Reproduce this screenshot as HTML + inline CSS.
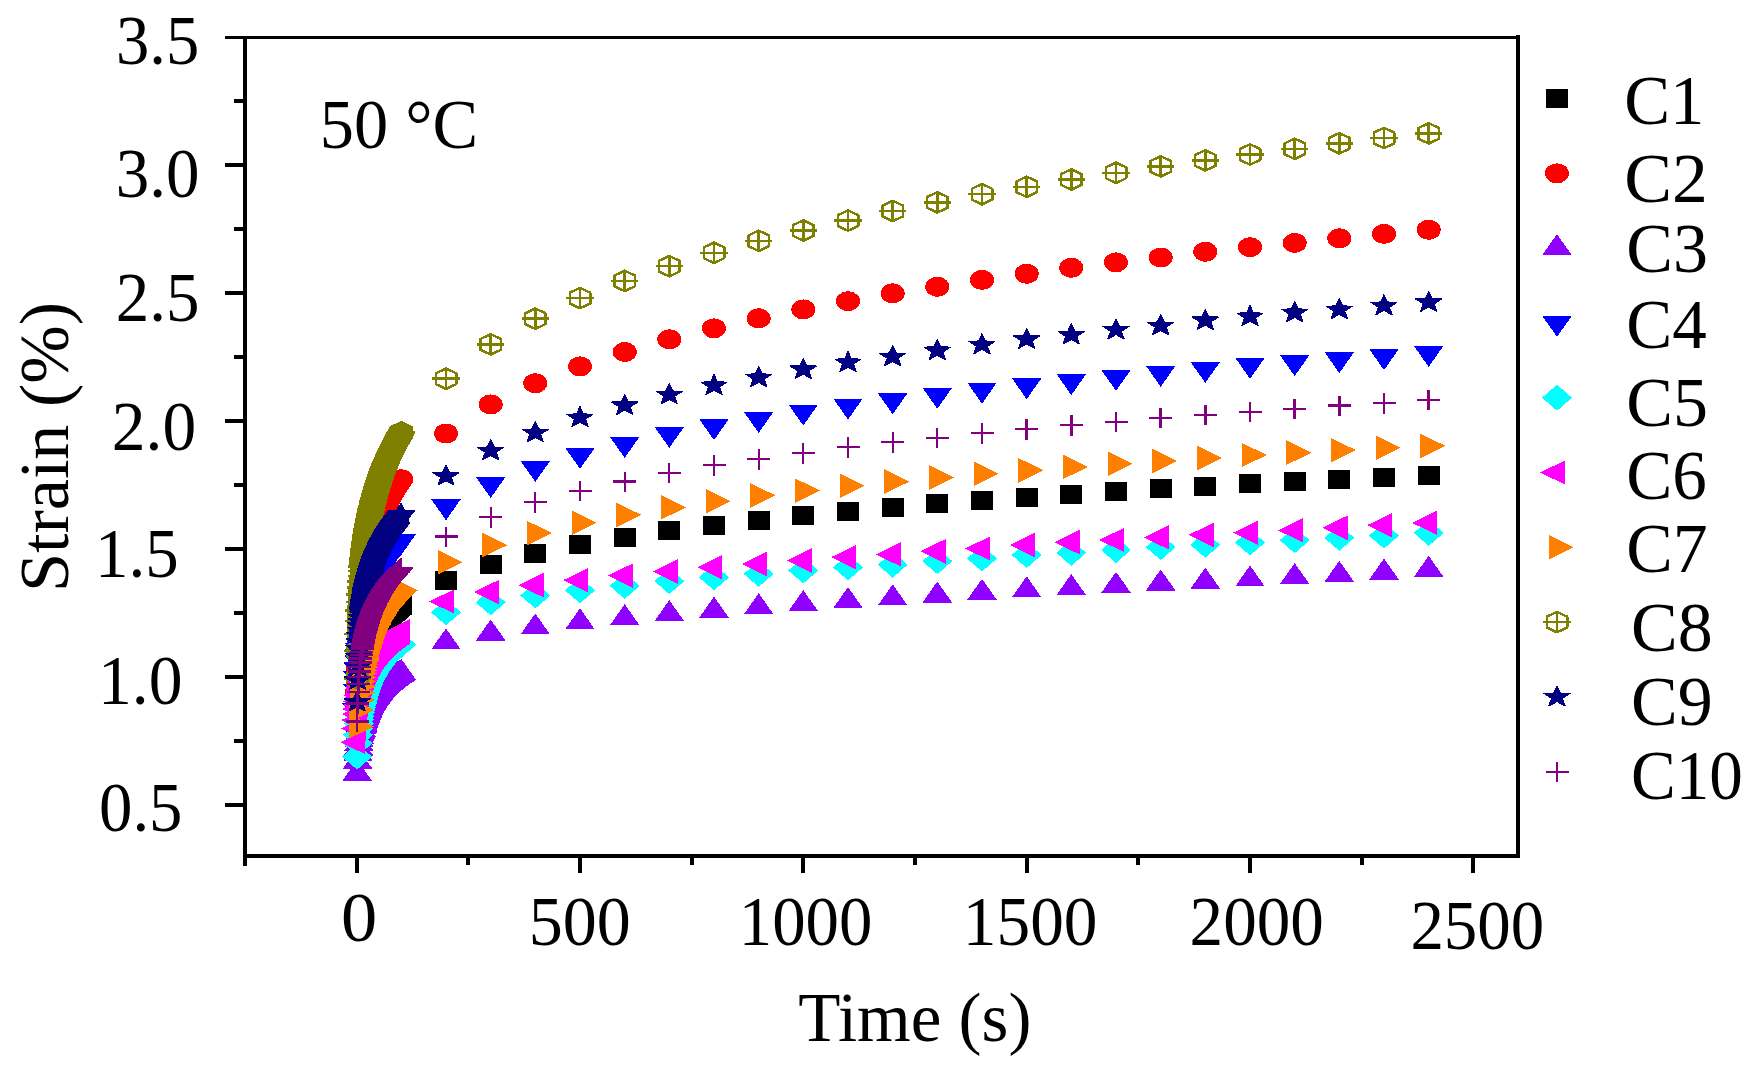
<!DOCTYPE html>
<html><head><meta charset="utf-8"><title>Creep strain at 50 °C</title>
<style>html,body{margin:0;padding:0;background:#fff}svg{display:block}</style></head>
<body>
<svg width="1750" height="1070" viewBox="0 0 1750 1070">
<rect width="1750" height="1070" fill="#fff"/>
<defs>
<rect id="m1" x="-11" y="-9.5" width="22" height="19"/>
<ellipse id="m2" rx="12" ry="10"/>
<polygon id="m3" points="0,-14 14.75,7 -14.75,7"/>
<polygon id="m4" points="0,14 14.75,-7 -14.75,-7"/>
<polygon id="m5" points="0,-13 15,0 0,13 -15,0"/>
<polygon id="m6" points="-16.7,0 8.3,-12.3 8.3,12.3"/>
<polygon id="m7" points="16.7,0 -8.3,-12.3 -8.3,12.3"/>
<g id="m8" fill="none" stroke="#808000" stroke-width="2.5" stroke-linejoin="round"><polygon points="0,-10.2 10.25,-5.4 10.25,5.4 0,10.2 -10.25,5.4 -10.25,-5.4"/><path d="M-13.6,0H13.6M0,-10.5V10.5"/></g>
<polygon id="m8f" points="0,-11.5 11.5,-5.75 11.5,5.75 0,11.5 -11.5,5.75 -11.5,-5.75"/>
<polygon id="m9" points="0.00,-11.00 3.36,-3.74 12.93,-3.40 5.43,1.43 7.99,8.90 0.00,4.62 -7.99,8.90 -5.43,1.43 -12.93,-3.40 -3.36,-3.74" stroke="#000080" stroke-width="1.2" stroke-linejoin="round"/>
<path id="m10" d="M-11.5,0H11.5M0,-10V10.5" fill="none" stroke="#800080" stroke-width="2.4"/>
</defs>
<clipPath id="pc"><rect x="245" y="37" width="1273" height="819"/></clipPath>
<g clip-path="url(#pc)" shape-rendering="crispEdges">
<g fill="#000000">
<use href="#m1" x="357.1" y="730.0"/><use href="#m1" x="357.6" y="714.8"/><use href="#m1" x="358.0" y="705.3"/><use href="#m1" x="358.5" y="698.4"/><use href="#m1" x="358.9" y="692.8"/><use href="#m1" x="359.3" y="688.2"/><use href="#m1" x="359.8" y="684.2"/><use href="#m1" x="360.2" y="680.7"/><use href="#m1" x="360.7" y="677.6"/><use href="#m1" x="361.1" y="674.8"/><use href="#m1" x="361.6" y="672.2"/><use href="#m1" x="362.0" y="669.8"/><use href="#m1" x="362.2" y="668.7"/><use href="#m1" x="362.5" y="667.6"/><use href="#m1" x="362.7" y="666.5"/><use href="#m1" x="362.9" y="665.5"/><use href="#m1" x="363.1" y="664.5"/><use href="#m1" x="363.4" y="663.6"/><use href="#m1" x="363.6" y="662.7"/><use href="#m1" x="363.8" y="661.8"/><use href="#m1" x="364.0" y="660.9"/><use href="#m1" x="364.3" y="660.0"/><use href="#m1" x="364.5" y="659.2"/><use href="#m1" x="364.7" y="658.4"/><use href="#m1" x="364.9" y="657.6"/><use href="#m1" x="365.2" y="656.9"/><use href="#m1" x="365.4" y="656.1"/><use href="#m1" x="365.6" y="655.4"/><use href="#m1" x="365.8" y="654.7"/><use href="#m1" x="366.0" y="653.9"/><use href="#m1" x="366.3" y="653.3"/><use href="#m1" x="366.5" y="652.6"/><use href="#m1" x="366.7" y="651.9"/><use href="#m1" x="366.9" y="651.3"/><use href="#m1" x="367.2" y="650.6"/><use href="#m1" x="367.4" y="650.0"/><use href="#m1" x="367.6" y="649.4"/><use href="#m1" x="367.8" y="648.8"/><use href="#m1" x="368.1" y="648.2"/><use href="#m1" x="368.3" y="647.6"/><use href="#m1" x="368.5" y="647.1"/><use href="#m1" x="368.7" y="646.5"/><use href="#m1" x="368.9" y="646.0"/><use href="#m1" x="369.2" y="645.4"/><use href="#m1" x="369.4" y="644.9"/><use href="#m1" x="369.6" y="644.4"/><use href="#m1" x="369.8" y="643.9"/><use href="#m1" x="370.1" y="643.3"/><use href="#m1" x="370.3" y="642.8"/><use href="#m1" x="370.5" y="642.4"/><use href="#m1" x="370.7" y="641.9"/><use href="#m1" x="371.0" y="641.4"/><use href="#m1" x="371.2" y="640.9"/><use href="#m1" x="371.4" y="640.4"/><use href="#m1" x="371.6" y="640.0"/><use href="#m1" x="371.9" y="639.5"/><use href="#m1" x="372.1" y="639.1"/><use href="#m1" x="372.3" y="638.6"/><use href="#m1" x="372.5" y="638.2"/><use href="#m1" x="372.7" y="637.8"/><use href="#m1" x="373.0" y="637.4"/><use href="#m1" x="373.2" y="636.9"/><use href="#m1" x="373.4" y="636.5"/><use href="#m1" x="373.6" y="636.1"/><use href="#m1" x="373.9" y="635.7"/><use href="#m1" x="374.1" y="635.3"/><use href="#m1" x="374.3" y="634.9"/><use href="#m1" x="374.5" y="634.5"/><use href="#m1" x="374.8" y="634.1"/><use href="#m1" x="375.0" y="633.7"/><use href="#m1" x="375.2" y="633.4"/><use href="#m1" x="375.4" y="633.0"/><use href="#m1" x="375.6" y="632.6"/><use href="#m1" x="375.9" y="632.2"/><use href="#m1" x="376.1" y="631.9"/><use href="#m1" x="376.3" y="631.5"/><use href="#m1" x="376.5" y="631.2"/><use href="#m1" x="376.8" y="630.8"/><use href="#m1" x="377.0" y="630.5"/><use href="#m1" x="377.2" y="630.1"/><use href="#m1" x="377.4" y="629.8"/><use href="#m1" x="377.7" y="629.4"/><use href="#m1" x="377.9" y="629.1"/><use href="#m1" x="378.1" y="628.8"/><use href="#m1" x="378.3" y="628.4"/><use href="#m1" x="378.6" y="628.1"/><use href="#m1" x="378.8" y="627.8"/><use href="#m1" x="379.0" y="627.5"/><use href="#m1" x="379.2" y="627.1"/><use href="#m1" x="379.4" y="626.8"/><use href="#m1" x="379.7" y="626.5"/><use href="#m1" x="379.9" y="626.2"/><use href="#m1" x="380.1" y="625.9"/><use href="#m1" x="380.3" y="625.6"/><use href="#m1" x="380.6" y="625.3"/><use href="#m1" x="380.8" y="625.0"/><use href="#m1" x="381.0" y="624.7"/><use href="#m1" x="381.2" y="624.4"/><use href="#m1" x="381.5" y="624.1"/><use href="#m1" x="381.7" y="623.8"/><use href="#m1" x="381.9" y="623.5"/><use href="#m1" x="382.1" y="623.2"/><use href="#m1" x="382.4" y="623.0"/><use href="#m1" x="382.6" y="622.7"/><use href="#m1" x="382.8" y="622.4"/><use href="#m1" x="383.0" y="622.1"/><use href="#m1" x="383.2" y="621.9"/><use href="#m1" x="383.5" y="621.6"/><use href="#m1" x="383.7" y="621.3"/><use href="#m1" x="383.9" y="621.0"/><use href="#m1" x="384.1" y="620.8"/><use href="#m1" x="384.4" y="620.5"/><use href="#m1" x="384.6" y="620.3"/><use href="#m1" x="384.8" y="620.0"/><use href="#m1" x="385.0" y="619.7"/><use href="#m1" x="385.3" y="619.5"/><use href="#m1" x="385.5" y="619.2"/><use href="#m1" x="385.7" y="619.0"/><use href="#m1" x="385.9" y="618.7"/><use href="#m1" x="386.1" y="618.5"/><use href="#m1" x="386.4" y="618.2"/><use href="#m1" x="386.6" y="618.0"/><use href="#m1" x="386.8" y="617.7"/><use href="#m1" x="387.0" y="617.5"/><use href="#m1" x="387.3" y="617.2"/><use href="#m1" x="387.5" y="617.0"/><use href="#m1" x="387.7" y="616.8"/><use href="#m1" x="387.9" y="616.5"/><use href="#m1" x="388.2" y="616.3"/><use href="#m1" x="388.4" y="616.1"/><use href="#m1" x="388.6" y="615.8"/><use href="#m1" x="388.8" y="615.6"/><use href="#m1" x="389.0" y="615.4"/><use href="#m1" x="389.3" y="615.1"/><use href="#m1" x="389.5" y="614.9"/><use href="#m1" x="389.7" y="614.7"/><use href="#m1" x="389.9" y="614.5"/><use href="#m1" x="390.2" y="614.2"/><use href="#m1" x="390.4" y="614.0"/><use href="#m1" x="390.6" y="613.8"/><use href="#m1" x="390.8" y="613.6"/><use href="#m1" x="391.1" y="613.4"/><use href="#m1" x="391.3" y="613.1"/><use href="#m1" x="391.5" y="612.9"/><use href="#m1" x="391.7" y="612.7"/><use href="#m1" x="392.0" y="612.5"/><use href="#m1" x="392.2" y="612.3"/><use href="#m1" x="392.4" y="612.1"/><use href="#m1" x="392.6" y="611.9"/><use href="#m1" x="392.8" y="611.7"/><use href="#m1" x="393.1" y="611.5"/><use href="#m1" x="393.3" y="611.2"/><use href="#m1" x="393.5" y="611.0"/><use href="#m1" x="393.7" y="610.8"/><use href="#m1" x="394.0" y="610.6"/><use href="#m1" x="394.2" y="610.4"/><use href="#m1" x="394.4" y="610.2"/><use href="#m1" x="394.6" y="610.0"/><use href="#m1" x="394.9" y="609.8"/><use href="#m1" x="395.1" y="609.6"/><use href="#m1" x="395.3" y="609.4"/><use href="#m1" x="395.5" y="609.2"/><use href="#m1" x="395.8" y="609.1"/><use href="#m1" x="396.0" y="608.9"/><use href="#m1" x="396.2" y="608.7"/><use href="#m1" x="396.4" y="608.5"/><use href="#m1" x="396.6" y="608.3"/><use href="#m1" x="396.9" y="608.1"/><use href="#m1" x="397.1" y="607.9"/><use href="#m1" x="397.3" y="607.7"/><use href="#m1" x="397.5" y="607.5"/><use href="#m1" x="397.8" y="607.4"/><use href="#m1" x="398.0" y="607.2"/><use href="#m1" x="398.2" y="607.0"/><use href="#m1" x="398.4" y="606.8"/><use href="#m1" x="398.7" y="606.6"/><use href="#m1" x="398.9" y="606.4"/><use href="#m1" x="399.1" y="606.3"/><use href="#m1" x="399.3" y="606.1"/><use href="#m1" x="399.5" y="605.9"/><use href="#m1" x="399.8" y="605.7"/><use href="#m1" x="400.0" y="605.5"/><use href="#m1" x="400.2" y="605.4"/><use href="#m1" x="400.4" y="605.2"/><use href="#m1" x="400.7" y="605.0"/><use href="#m1" x="400.9" y="604.8"/><use href="#m1" x="401.1" y="604.7"/><use href="#m1" x="401.3" y="604.5"/><use href="#m1" x="446.0" y="580.4"/><use href="#m1" x="490.7" y="564.9"/><use href="#m1" x="535.3" y="553.3"/><use href="#m1" x="580.0" y="544.1"/><use href="#m1" x="624.7" y="537.2"/><use href="#m1" x="669.3" y="530.7"/><use href="#m1" x="714.0" y="525.2"/><use href="#m1" x="758.7" y="520.1"/><use href="#m1" x="803.3" y="515.3"/><use href="#m1" x="848.0" y="511.1"/><use href="#m1" x="892.7" y="507.4"/><use href="#m1" x="937.3" y="503.9"/><use href="#m1" x="982.0" y="500.5"/><use href="#m1" x="1026.7" y="497.2"/><use href="#m1" x="1071.3" y="494.2"/><use href="#m1" x="1116.0" y="491.4"/><use href="#m1" x="1160.7" y="488.9"/><use href="#m1" x="1205.3" y="486.4"/><use href="#m1" x="1250.0" y="483.9"/><use href="#m1" x="1294.7" y="481.3"/><use href="#m1" x="1339.3" y="479.3"/><use href="#m1" x="1384.0" y="477.5"/><use href="#m1" x="1428.7" y="475.4"/>
</g>
<g fill="#ff0000">
<use href="#m2" x="357.1" y="692.0"/><use href="#m2" x="357.6" y="667.9"/><use href="#m2" x="358.0" y="652.7"/><use href="#m2" x="358.5" y="641.4"/><use href="#m2" x="358.9" y="632.4"/><use href="#m2" x="359.3" y="624.7"/><use href="#m2" x="359.8" y="618.1"/><use href="#m2" x="360.2" y="612.3"/><use href="#m2" x="360.7" y="607.1"/><use href="#m2" x="361.1" y="602.3"/><use href="#m2" x="361.6" y="597.9"/><use href="#m2" x="362.0" y="593.9"/><use href="#m2" x="362.2" y="592.0"/><use href="#m2" x="362.5" y="590.2"/><use href="#m2" x="362.7" y="588.4"/><use href="#m2" x="362.9" y="586.7"/><use href="#m2" x="363.1" y="585.0"/><use href="#m2" x="363.4" y="583.4"/><use href="#m2" x="363.6" y="581.8"/><use href="#m2" x="363.8" y="580.2"/><use href="#m2" x="364.0" y="578.7"/><use href="#m2" x="364.3" y="577.3"/><use href="#m2" x="364.5" y="575.9"/><use href="#m2" x="364.7" y="574.5"/><use href="#m2" x="364.9" y="573.1"/><use href="#m2" x="365.2" y="571.8"/><use href="#m2" x="365.4" y="570.5"/><use href="#m2" x="365.6" y="569.3"/><use href="#m2" x="365.8" y="568.0"/><use href="#m2" x="366.0" y="566.8"/><use href="#m2" x="366.3" y="565.6"/><use href="#m2" x="366.5" y="564.5"/><use href="#m2" x="366.7" y="563.3"/><use href="#m2" x="366.9" y="562.2"/><use href="#m2" x="367.2" y="561.1"/><use href="#m2" x="367.4" y="560.0"/><use href="#m2" x="367.6" y="559.0"/><use href="#m2" x="367.8" y="557.9"/><use href="#m2" x="368.1" y="556.9"/><use href="#m2" x="368.3" y="555.9"/><use href="#m2" x="368.5" y="554.9"/><use href="#m2" x="368.7" y="553.9"/><use href="#m2" x="368.9" y="553.0"/><use href="#m2" x="369.2" y="552.0"/><use href="#m2" x="369.4" y="551.1"/><use href="#m2" x="369.6" y="550.2"/><use href="#m2" x="369.8" y="549.3"/><use href="#m2" x="370.1" y="548.4"/><use href="#m2" x="370.3" y="547.5"/><use href="#m2" x="370.5" y="546.7"/><use href="#m2" x="370.7" y="545.8"/><use href="#m2" x="371.0" y="545.0"/><use href="#m2" x="371.2" y="544.2"/><use href="#m2" x="371.4" y="543.3"/><use href="#m2" x="371.6" y="542.5"/><use href="#m2" x="371.9" y="541.7"/><use href="#m2" x="372.1" y="541.0"/><use href="#m2" x="372.3" y="540.2"/><use href="#m2" x="372.5" y="539.4"/><use href="#m2" x="372.7" y="538.7"/><use href="#m2" x="373.0" y="537.9"/><use href="#m2" x="373.2" y="537.2"/><use href="#m2" x="373.4" y="536.4"/><use href="#m2" x="373.6" y="535.7"/><use href="#m2" x="373.9" y="535.0"/><use href="#m2" x="374.1" y="534.3"/><use href="#m2" x="374.3" y="533.6"/><use href="#m2" x="374.5" y="532.9"/><use href="#m2" x="374.8" y="532.2"/><use href="#m2" x="375.0" y="531.5"/><use href="#m2" x="375.2" y="530.9"/><use href="#m2" x="375.4" y="530.2"/><use href="#m2" x="375.6" y="529.6"/><use href="#m2" x="375.9" y="528.9"/><use href="#m2" x="376.1" y="528.3"/><use href="#m2" x="376.3" y="527.6"/><use href="#m2" x="376.5" y="527.0"/><use href="#m2" x="376.8" y="526.4"/><use href="#m2" x="377.0" y="525.8"/><use href="#m2" x="377.2" y="525.1"/><use href="#m2" x="377.4" y="524.5"/><use href="#m2" x="377.7" y="523.9"/><use href="#m2" x="377.9" y="523.3"/><use href="#m2" x="378.1" y="522.7"/><use href="#m2" x="378.3" y="522.2"/><use href="#m2" x="378.6" y="521.6"/><use href="#m2" x="378.8" y="521.0"/><use href="#m2" x="379.0" y="520.4"/><use href="#m2" x="379.2" y="519.9"/><use href="#m2" x="379.4" y="519.3"/><use href="#m2" x="379.7" y="518.8"/><use href="#m2" x="379.9" y="518.2"/><use href="#m2" x="380.1" y="517.7"/><use href="#m2" x="380.3" y="517.1"/><use href="#m2" x="380.6" y="516.6"/><use href="#m2" x="380.8" y="516.1"/><use href="#m2" x="381.0" y="515.5"/><use href="#m2" x="381.2" y="515.0"/><use href="#m2" x="381.5" y="514.5"/><use href="#m2" x="381.7" y="514.0"/><use href="#m2" x="381.9" y="513.5"/><use href="#m2" x="382.1" y="512.9"/><use href="#m2" x="382.4" y="512.4"/><use href="#m2" x="382.6" y="511.9"/><use href="#m2" x="382.8" y="511.4"/><use href="#m2" x="383.0" y="510.9"/><use href="#m2" x="383.2" y="510.5"/><use href="#m2" x="383.5" y="510.0"/><use href="#m2" x="383.7" y="509.5"/><use href="#m2" x="383.9" y="509.0"/><use href="#m2" x="384.1" y="508.5"/><use href="#m2" x="384.4" y="508.1"/><use href="#m2" x="384.6" y="507.6"/><use href="#m2" x="384.8" y="507.1"/><use href="#m2" x="385.0" y="506.7"/><use href="#m2" x="385.3" y="506.2"/><use href="#m2" x="385.5" y="505.7"/><use href="#m2" x="385.7" y="505.3"/><use href="#m2" x="385.9" y="504.8"/><use href="#m2" x="386.1" y="504.4"/><use href="#m2" x="386.4" y="503.9"/><use href="#m2" x="386.6" y="503.5"/><use href="#m2" x="386.8" y="503.1"/><use href="#m2" x="387.0" y="502.6"/><use href="#m2" x="387.3" y="502.2"/><use href="#m2" x="387.5" y="501.8"/><use href="#m2" x="387.7" y="501.3"/><use href="#m2" x="387.9" y="500.9"/><use href="#m2" x="388.2" y="500.5"/><use href="#m2" x="388.4" y="500.1"/><use href="#m2" x="388.6" y="499.7"/><use href="#m2" x="388.8" y="499.2"/><use href="#m2" x="389.0" y="498.8"/><use href="#m2" x="389.3" y="498.4"/><use href="#m2" x="389.5" y="498.0"/><use href="#m2" x="389.7" y="497.6"/><use href="#m2" x="389.9" y="497.2"/><use href="#m2" x="390.2" y="496.8"/><use href="#m2" x="390.4" y="496.4"/><use href="#m2" x="390.6" y="496.0"/><use href="#m2" x="390.8" y="495.6"/><use href="#m2" x="391.1" y="495.2"/><use href="#m2" x="391.3" y="494.8"/><use href="#m2" x="391.5" y="494.4"/><use href="#m2" x="391.7" y="494.1"/><use href="#m2" x="392.0" y="493.7"/><use href="#m2" x="392.2" y="493.3"/><use href="#m2" x="392.4" y="492.9"/><use href="#m2" x="392.6" y="492.5"/><use href="#m2" x="392.8" y="492.2"/><use href="#m2" x="393.1" y="491.8"/><use href="#m2" x="393.3" y="491.4"/><use href="#m2" x="393.5" y="491.0"/><use href="#m2" x="393.7" y="490.7"/><use href="#m2" x="394.0" y="490.3"/><use href="#m2" x="394.2" y="489.9"/><use href="#m2" x="394.4" y="489.6"/><use href="#m2" x="394.6" y="489.2"/><use href="#m2" x="394.9" y="488.9"/><use href="#m2" x="395.1" y="488.5"/><use href="#m2" x="395.3" y="488.2"/><use href="#m2" x="395.5" y="487.8"/><use href="#m2" x="395.8" y="487.5"/><use href="#m2" x="396.0" y="487.1"/><use href="#m2" x="396.2" y="486.8"/><use href="#m2" x="396.4" y="486.4"/><use href="#m2" x="396.6" y="486.1"/><use href="#m2" x="396.9" y="485.7"/><use href="#m2" x="397.1" y="485.4"/><use href="#m2" x="397.3" y="485.0"/><use href="#m2" x="397.5" y="484.7"/><use href="#m2" x="397.8" y="484.4"/><use href="#m2" x="398.0" y="484.0"/><use href="#m2" x="398.2" y="483.7"/><use href="#m2" x="398.4" y="483.4"/><use href="#m2" x="398.7" y="483.0"/><use href="#m2" x="398.9" y="482.7"/><use href="#m2" x="399.1" y="482.4"/><use href="#m2" x="399.3" y="482.1"/><use href="#m2" x="399.5" y="481.7"/><use href="#m2" x="399.8" y="481.4"/><use href="#m2" x="400.0" y="481.1"/><use href="#m2" x="400.2" y="480.8"/><use href="#m2" x="400.4" y="480.5"/><use href="#m2" x="400.7" y="480.1"/><use href="#m2" x="400.9" y="479.8"/><use href="#m2" x="401.1" y="479.5"/><use href="#m2" x="401.3" y="479.2"/><use href="#m2" x="446.0" y="433.5"/><use href="#m2" x="490.7" y="404.4"/><use href="#m2" x="535.3" y="383.2"/><use href="#m2" x="580.0" y="366.4"/><use href="#m2" x="624.7" y="352.0"/><use href="#m2" x="669.3" y="339.3"/><use href="#m2" x="714.0" y="328.3"/><use href="#m2" x="758.7" y="318.3"/><use href="#m2" x="803.3" y="309.4"/><use href="#m2" x="848.0" y="301.2"/><use href="#m2" x="892.7" y="293.3"/><use href="#m2" x="937.3" y="286.8"/><use href="#m2" x="982.0" y="279.9"/><use href="#m2" x="1026.7" y="273.8"/><use href="#m2" x="1071.3" y="267.8"/><use href="#m2" x="1116.0" y="262.3"/><use href="#m2" x="1160.7" y="257.5"/><use href="#m2" x="1205.3" y="251.8"/><use href="#m2" x="1250.0" y="247.2"/><use href="#m2" x="1294.7" y="242.9"/><use href="#m2" x="1339.3" y="238.3"/><use href="#m2" x="1384.0" y="233.9"/><use href="#m2" x="1428.7" y="229.8"/>
</g>
<g fill="#9000ff">
<use href="#m3" x="357.1" y="773.8"/><use href="#m3" x="357.6" y="761.6"/><use href="#m3" x="358.0" y="754.0"/><use href="#m3" x="358.5" y="748.5"/><use href="#m3" x="358.9" y="744.0"/><use href="#m3" x="359.3" y="740.3"/><use href="#m3" x="359.8" y="737.1"/><use href="#m3" x="360.2" y="734.3"/><use href="#m3" x="360.7" y="731.8"/><use href="#m3" x="361.1" y="729.5"/><use href="#m3" x="361.6" y="727.4"/><use href="#m3" x="362.0" y="725.5"/><use href="#m3" x="362.2" y="724.6"/><use href="#m3" x="362.5" y="723.7"/><use href="#m3" x="362.7" y="722.9"/><use href="#m3" x="362.9" y="722.1"/><use href="#m3" x="363.1" y="721.3"/><use href="#m3" x="363.4" y="720.5"/><use href="#m3" x="363.6" y="719.8"/><use href="#m3" x="363.8" y="719.1"/><use href="#m3" x="364.0" y="718.4"/><use href="#m3" x="364.3" y="717.7"/><use href="#m3" x="364.5" y="717.0"/><use href="#m3" x="364.7" y="716.4"/><use href="#m3" x="364.9" y="715.7"/><use href="#m3" x="365.2" y="715.1"/><use href="#m3" x="365.4" y="714.5"/><use href="#m3" x="365.6" y="713.9"/><use href="#m3" x="365.8" y="713.3"/><use href="#m3" x="366.0" y="712.8"/><use href="#m3" x="366.3" y="712.2"/><use href="#m3" x="366.5" y="711.7"/><use href="#m3" x="366.7" y="711.1"/><use href="#m3" x="366.9" y="710.6"/><use href="#m3" x="367.2" y="710.1"/><use href="#m3" x="367.4" y="709.6"/><use href="#m3" x="367.6" y="709.1"/><use href="#m3" x="367.8" y="708.6"/><use href="#m3" x="368.1" y="708.2"/><use href="#m3" x="368.3" y="707.7"/><use href="#m3" x="368.5" y="707.2"/><use href="#m3" x="368.7" y="706.8"/><use href="#m3" x="368.9" y="706.3"/><use href="#m3" x="369.2" y="705.9"/><use href="#m3" x="369.4" y="705.5"/><use href="#m3" x="369.6" y="705.1"/><use href="#m3" x="369.8" y="704.6"/><use href="#m3" x="370.1" y="704.2"/><use href="#m3" x="370.3" y="703.8"/><use href="#m3" x="370.5" y="703.4"/><use href="#m3" x="370.7" y="703.0"/><use href="#m3" x="371.0" y="702.7"/><use href="#m3" x="371.2" y="702.3"/><use href="#m3" x="371.4" y="701.9"/><use href="#m3" x="371.6" y="701.5"/><use href="#m3" x="371.9" y="701.2"/><use href="#m3" x="372.1" y="700.8"/><use href="#m3" x="372.3" y="700.4"/><use href="#m3" x="372.5" y="700.1"/><use href="#m3" x="372.7" y="699.7"/><use href="#m3" x="373.0" y="699.4"/><use href="#m3" x="373.2" y="699.1"/><use href="#m3" x="373.4" y="698.7"/><use href="#m3" x="373.6" y="698.4"/><use href="#m3" x="373.9" y="698.1"/><use href="#m3" x="374.1" y="697.7"/><use href="#m3" x="374.3" y="697.4"/><use href="#m3" x="374.5" y="697.1"/><use href="#m3" x="374.8" y="696.8"/><use href="#m3" x="375.0" y="696.5"/><use href="#m3" x="375.2" y="696.2"/><use href="#m3" x="375.4" y="695.9"/><use href="#m3" x="375.6" y="695.6"/><use href="#m3" x="375.9" y="695.3"/><use href="#m3" x="376.1" y="695.0"/><use href="#m3" x="376.3" y="694.7"/><use href="#m3" x="376.5" y="694.4"/><use href="#m3" x="376.8" y="694.1"/><use href="#m3" x="377.0" y="693.8"/><use href="#m3" x="377.2" y="693.6"/><use href="#m3" x="377.4" y="693.3"/><use href="#m3" x="377.7" y="693.0"/><use href="#m3" x="377.9" y="692.7"/><use href="#m3" x="378.1" y="692.5"/><use href="#m3" x="378.3" y="692.2"/><use href="#m3" x="378.6" y="692.0"/><use href="#m3" x="378.8" y="691.7"/><use href="#m3" x="379.0" y="691.4"/><use href="#m3" x="379.2" y="691.2"/><use href="#m3" x="379.4" y="690.9"/><use href="#m3" x="379.7" y="690.7"/><use href="#m3" x="379.9" y="690.4"/><use href="#m3" x="380.1" y="690.2"/><use href="#m3" x="380.3" y="689.9"/><use href="#m3" x="380.6" y="689.7"/><use href="#m3" x="380.8" y="689.4"/><use href="#m3" x="381.0" y="689.2"/><use href="#m3" x="381.2" y="689.0"/><use href="#m3" x="381.5" y="688.7"/><use href="#m3" x="381.7" y="688.5"/><use href="#m3" x="381.9" y="688.3"/><use href="#m3" x="382.1" y="688.0"/><use href="#m3" x="382.4" y="687.8"/><use href="#m3" x="382.6" y="687.6"/><use href="#m3" x="382.8" y="687.4"/><use href="#m3" x="383.0" y="687.1"/><use href="#m3" x="383.2" y="686.9"/><use href="#m3" x="383.5" y="686.7"/><use href="#m3" x="383.7" y="686.5"/><use href="#m3" x="383.9" y="686.3"/><use href="#m3" x="384.1" y="686.0"/><use href="#m3" x="384.4" y="685.8"/><use href="#m3" x="384.6" y="685.6"/><use href="#m3" x="384.8" y="685.4"/><use href="#m3" x="385.0" y="685.2"/><use href="#m3" x="385.3" y="685.0"/><use href="#m3" x="385.5" y="684.8"/><use href="#m3" x="385.7" y="684.6"/><use href="#m3" x="385.9" y="684.4"/><use href="#m3" x="386.1" y="684.2"/><use href="#m3" x="386.4" y="684.0"/><use href="#m3" x="386.6" y="683.8"/><use href="#m3" x="386.8" y="683.6"/><use href="#m3" x="387.0" y="683.4"/><use href="#m3" x="387.3" y="683.2"/><use href="#m3" x="387.5" y="683.0"/><use href="#m3" x="387.7" y="682.8"/><use href="#m3" x="387.9" y="682.6"/><use href="#m3" x="388.2" y="682.4"/><use href="#m3" x="388.4" y="682.2"/><use href="#m3" x="388.6" y="682.0"/><use href="#m3" x="388.8" y="681.9"/><use href="#m3" x="389.0" y="681.7"/><use href="#m3" x="389.3" y="681.5"/><use href="#m3" x="389.5" y="681.3"/><use href="#m3" x="389.7" y="681.1"/><use href="#m3" x="389.9" y="680.9"/><use href="#m3" x="390.2" y="680.8"/><use href="#m3" x="390.4" y="680.6"/><use href="#m3" x="390.6" y="680.4"/><use href="#m3" x="390.8" y="680.2"/><use href="#m3" x="391.1" y="680.0"/><use href="#m3" x="391.3" y="679.9"/><use href="#m3" x="391.5" y="679.7"/><use href="#m3" x="391.7" y="679.5"/><use href="#m3" x="392.0" y="679.4"/><use href="#m3" x="392.2" y="679.2"/><use href="#m3" x="392.4" y="679.0"/><use href="#m3" x="392.6" y="678.8"/><use href="#m3" x="392.8" y="678.7"/><use href="#m3" x="393.1" y="678.5"/><use href="#m3" x="393.3" y="678.3"/><use href="#m3" x="393.5" y="678.2"/><use href="#m3" x="393.7" y="678.0"/><use href="#m3" x="394.0" y="677.9"/><use href="#m3" x="394.2" y="677.7"/><use href="#m3" x="394.4" y="677.5"/><use href="#m3" x="394.6" y="677.4"/><use href="#m3" x="394.9" y="677.2"/><use href="#m3" x="395.1" y="677.0"/><use href="#m3" x="395.3" y="676.9"/><use href="#m3" x="395.5" y="676.7"/><use href="#m3" x="395.8" y="676.6"/><use href="#m3" x="396.0" y="676.4"/><use href="#m3" x="396.2" y="676.3"/><use href="#m3" x="396.4" y="676.1"/><use href="#m3" x="396.6" y="676.0"/><use href="#m3" x="396.9" y="675.8"/><use href="#m3" x="397.1" y="675.7"/><use href="#m3" x="397.3" y="675.5"/><use href="#m3" x="397.5" y="675.4"/><use href="#m3" x="397.8" y="675.2"/><use href="#m3" x="398.0" y="675.1"/><use href="#m3" x="398.2" y="674.9"/><use href="#m3" x="398.4" y="674.8"/><use href="#m3" x="398.7" y="674.6"/><use href="#m3" x="398.9" y="674.5"/><use href="#m3" x="399.1" y="674.3"/><use href="#m3" x="399.3" y="674.2"/><use href="#m3" x="399.5" y="674.0"/><use href="#m3" x="399.8" y="673.9"/><use href="#m3" x="400.0" y="673.7"/><use href="#m3" x="400.2" y="673.6"/><use href="#m3" x="400.4" y="673.5"/><use href="#m3" x="400.7" y="673.3"/><use href="#m3" x="400.9" y="673.2"/><use href="#m3" x="401.1" y="673.0"/><use href="#m3" x="401.3" y="672.9"/><use href="#m3" x="446.0" y="642.4"/><use href="#m3" x="490.7" y="633.5"/><use href="#m3" x="535.3" y="627.4"/><use href="#m3" x="580.0" y="622.3"/><use href="#m3" x="624.7" y="618.2"/><use href="#m3" x="669.3" y="614.1"/><use href="#m3" x="714.0" y="610.6"/><use href="#m3" x="758.7" y="607.2"/><use href="#m3" x="803.3" y="604.1"/><use href="#m3" x="848.0" y="601.0"/><use href="#m3" x="892.7" y="598.3"/><use href="#m3" x="937.3" y="595.5"/><use href="#m3" x="982.0" y="592.8"/><use href="#m3" x="1026.7" y="590.3"/><use href="#m3" x="1071.3" y="588.1"/><use href="#m3" x="1116.0" y="585.8"/><use href="#m3" x="1160.7" y="583.5"/><use href="#m3" x="1205.3" y="581.6"/><use href="#m3" x="1250.0" y="579.4"/><use href="#m3" x="1294.7" y="577.1"/><use href="#m3" x="1339.3" y="574.8"/><use href="#m3" x="1384.0" y="572.5"/><use href="#m3" x="1428.7" y="569.8"/>
</g>
<g fill="#0000ff">
<use href="#m4" x="357.1" y="710.4"/><use href="#m4" x="357.6" y="690.6"/><use href="#m4" x="358.0" y="678.2"/><use href="#m4" x="358.5" y="669.1"/><use href="#m4" x="358.9" y="661.7"/><use href="#m4" x="359.3" y="655.6"/><use href="#m4" x="359.8" y="650.3"/><use href="#m4" x="360.2" y="645.6"/><use href="#m4" x="360.7" y="641.4"/><use href="#m4" x="361.1" y="637.6"/><use href="#m4" x="361.6" y="634.1"/><use href="#m4" x="362.0" y="630.9"/><use href="#m4" x="362.2" y="629.4"/><use href="#m4" x="362.5" y="627.9"/><use href="#m4" x="362.7" y="626.5"/><use href="#m4" x="362.9" y="625.1"/><use href="#m4" x="363.1" y="623.8"/><use href="#m4" x="363.4" y="622.5"/><use href="#m4" x="363.6" y="621.3"/><use href="#m4" x="363.8" y="620.1"/><use href="#m4" x="364.0" y="618.9"/><use href="#m4" x="364.3" y="617.7"/><use href="#m4" x="364.5" y="616.6"/><use href="#m4" x="364.7" y="615.5"/><use href="#m4" x="364.9" y="614.4"/><use href="#m4" x="365.2" y="613.4"/><use href="#m4" x="365.4" y="612.4"/><use href="#m4" x="365.6" y="611.4"/><use href="#m4" x="365.8" y="610.4"/><use href="#m4" x="366.0" y="609.4"/><use href="#m4" x="366.3" y="608.5"/><use href="#m4" x="366.5" y="607.6"/><use href="#m4" x="366.7" y="606.7"/><use href="#m4" x="366.9" y="605.8"/><use href="#m4" x="367.2" y="604.9"/><use href="#m4" x="367.4" y="604.1"/><use href="#m4" x="367.6" y="603.2"/><use href="#m4" x="367.8" y="602.4"/><use href="#m4" x="368.1" y="601.6"/><use href="#m4" x="368.3" y="600.8"/><use href="#m4" x="368.5" y="600.0"/><use href="#m4" x="368.7" y="599.3"/><use href="#m4" x="368.9" y="598.5"/><use href="#m4" x="369.2" y="597.8"/><use href="#m4" x="369.4" y="597.0"/><use href="#m4" x="369.6" y="596.3"/><use href="#m4" x="369.8" y="595.6"/><use href="#m4" x="370.1" y="594.9"/><use href="#m4" x="370.3" y="594.2"/><use href="#m4" x="370.5" y="593.6"/><use href="#m4" x="370.7" y="592.9"/><use href="#m4" x="371.0" y="592.2"/><use href="#m4" x="371.2" y="591.6"/><use href="#m4" x="371.4" y="590.9"/><use href="#m4" x="371.6" y="590.3"/><use href="#m4" x="371.9" y="589.7"/><use href="#m4" x="372.1" y="589.1"/><use href="#m4" x="372.3" y="588.5"/><use href="#m4" x="372.5" y="587.9"/><use href="#m4" x="372.7" y="587.3"/><use href="#m4" x="373.0" y="586.7"/><use href="#m4" x="373.2" y="586.1"/><use href="#m4" x="373.4" y="585.5"/><use href="#m4" x="373.6" y="585.0"/><use href="#m4" x="373.9" y="584.4"/><use href="#m4" x="374.1" y="583.8"/><use href="#m4" x="374.3" y="583.3"/><use href="#m4" x="374.5" y="582.8"/><use href="#m4" x="374.8" y="582.2"/><use href="#m4" x="375.0" y="581.7"/><use href="#m4" x="375.2" y="581.2"/><use href="#m4" x="375.4" y="580.6"/><use href="#m4" x="375.6" y="580.1"/><use href="#m4" x="375.9" y="579.6"/><use href="#m4" x="376.1" y="579.1"/><use href="#m4" x="376.3" y="578.6"/><use href="#m4" x="376.5" y="578.1"/><use href="#m4" x="376.8" y="577.6"/><use href="#m4" x="377.0" y="577.2"/><use href="#m4" x="377.2" y="576.7"/><use href="#m4" x="377.4" y="576.2"/><use href="#m4" x="377.7" y="575.7"/><use href="#m4" x="377.9" y="575.3"/><use href="#m4" x="378.1" y="574.8"/><use href="#m4" x="378.3" y="574.4"/><use href="#m4" x="378.6" y="573.9"/><use href="#m4" x="378.8" y="573.5"/><use href="#m4" x="379.0" y="573.0"/><use href="#m4" x="379.2" y="572.6"/><use href="#m4" x="379.4" y="572.1"/><use href="#m4" x="379.7" y="571.7"/><use href="#m4" x="379.9" y="571.3"/><use href="#m4" x="380.1" y="570.8"/><use href="#m4" x="380.3" y="570.4"/><use href="#m4" x="380.6" y="570.0"/><use href="#m4" x="380.8" y="569.6"/><use href="#m4" x="381.0" y="569.2"/><use href="#m4" x="381.2" y="568.8"/><use href="#m4" x="381.5" y="568.4"/><use href="#m4" x="381.7" y="568.0"/><use href="#m4" x="381.9" y="567.6"/><use href="#m4" x="382.1" y="567.2"/><use href="#m4" x="382.4" y="566.8"/><use href="#m4" x="382.6" y="566.4"/><use href="#m4" x="382.8" y="566.0"/><use href="#m4" x="383.0" y="565.6"/><use href="#m4" x="383.2" y="565.2"/><use href="#m4" x="383.5" y="564.9"/><use href="#m4" x="383.7" y="564.5"/><use href="#m4" x="383.9" y="564.1"/><use href="#m4" x="384.1" y="563.7"/><use href="#m4" x="384.4" y="563.4"/><use href="#m4" x="384.6" y="563.0"/><use href="#m4" x="384.8" y="562.6"/><use href="#m4" x="385.0" y="562.3"/><use href="#m4" x="385.3" y="561.9"/><use href="#m4" x="385.5" y="561.6"/><use href="#m4" x="385.7" y="561.2"/><use href="#m4" x="385.9" y="560.9"/><use href="#m4" x="386.1" y="560.5"/><use href="#m4" x="386.4" y="560.2"/><use href="#m4" x="386.6" y="559.8"/><use href="#m4" x="386.8" y="559.5"/><use href="#m4" x="387.0" y="559.1"/><use href="#m4" x="387.3" y="558.8"/><use href="#m4" x="387.5" y="558.5"/><use href="#m4" x="387.7" y="558.1"/><use href="#m4" x="387.9" y="557.8"/><use href="#m4" x="388.2" y="557.5"/><use href="#m4" x="388.4" y="557.2"/><use href="#m4" x="388.6" y="556.8"/><use href="#m4" x="388.8" y="556.5"/><use href="#m4" x="389.0" y="556.2"/><use href="#m4" x="389.3" y="555.9"/><use href="#m4" x="389.5" y="555.6"/><use href="#m4" x="389.7" y="555.2"/><use href="#m4" x="389.9" y="554.9"/><use href="#m4" x="390.2" y="554.6"/><use href="#m4" x="390.4" y="554.3"/><use href="#m4" x="390.6" y="554.0"/><use href="#m4" x="390.8" y="553.7"/><use href="#m4" x="391.1" y="553.4"/><use href="#m4" x="391.3" y="553.1"/><use href="#m4" x="391.5" y="552.8"/><use href="#m4" x="391.7" y="552.5"/><use href="#m4" x="392.0" y="552.2"/><use href="#m4" x="392.2" y="551.9"/><use href="#m4" x="392.4" y="551.6"/><use href="#m4" x="392.6" y="551.3"/><use href="#m4" x="392.8" y="551.0"/><use href="#m4" x="393.1" y="550.7"/><use href="#m4" x="393.3" y="550.4"/><use href="#m4" x="393.5" y="550.2"/><use href="#m4" x="393.7" y="549.9"/><use href="#m4" x="394.0" y="549.6"/><use href="#m4" x="394.2" y="549.3"/><use href="#m4" x="394.4" y="549.0"/><use href="#m4" x="394.6" y="548.8"/><use href="#m4" x="394.9" y="548.5"/><use href="#m4" x="395.1" y="548.2"/><use href="#m4" x="395.3" y="547.9"/><use href="#m4" x="395.5" y="547.7"/><use href="#m4" x="395.8" y="547.4"/><use href="#m4" x="396.0" y="547.1"/><use href="#m4" x="396.2" y="546.8"/><use href="#m4" x="396.4" y="546.6"/><use href="#m4" x="396.6" y="546.3"/><use href="#m4" x="396.9" y="546.0"/><use href="#m4" x="397.1" y="545.8"/><use href="#m4" x="397.3" y="545.5"/><use href="#m4" x="397.5" y="545.3"/><use href="#m4" x="397.8" y="545.0"/><use href="#m4" x="398.0" y="544.7"/><use href="#m4" x="398.2" y="544.5"/><use href="#m4" x="398.4" y="544.2"/><use href="#m4" x="398.7" y="544.0"/><use href="#m4" x="398.9" y="543.7"/><use href="#m4" x="399.1" y="543.5"/><use href="#m4" x="399.3" y="543.2"/><use href="#m4" x="399.5" y="543.0"/><use href="#m4" x="399.8" y="542.7"/><use href="#m4" x="400.0" y="542.5"/><use href="#m4" x="400.2" y="542.2"/><use href="#m4" x="400.4" y="542.0"/><use href="#m4" x="400.7" y="541.7"/><use href="#m4" x="400.9" y="541.5"/><use href="#m4" x="401.1" y="541.2"/><use href="#m4" x="401.3" y="541.0"/><use href="#m4" x="446.0" y="506.3"/><use href="#m4" x="490.7" y="484.0"/><use href="#m4" x="535.3" y="467.9"/><use href="#m4" x="580.0" y="454.9"/><use href="#m4" x="624.7" y="443.9"/><use href="#m4" x="669.3" y="433.9"/><use href="#m4" x="714.0" y="426.1"/><use href="#m4" x="758.7" y="418.9"/><use href="#m4" x="803.3" y="411.6"/><use href="#m4" x="848.0" y="405.5"/><use href="#m4" x="892.7" y="400.3"/><use href="#m4" x="937.3" y="394.8"/><use href="#m4" x="982.0" y="389.7"/><use href="#m4" x="1026.7" y="385.2"/><use href="#m4" x="1071.3" y="381.1"/><use href="#m4" x="1116.0" y="376.9"/><use href="#m4" x="1160.7" y="372.8"/><use href="#m4" x="1205.3" y="368.9"/><use href="#m4" x="1250.0" y="364.8"/><use href="#m4" x="1294.7" y="362.1"/><use href="#m4" x="1339.3" y="359.1"/><use href="#m4" x="1384.0" y="356.1"/><use href="#m4" x="1428.7" y="352.9"/>
</g>
<g fill="#00ffff">
<use href="#m5" x="357.1" y="756.7"/><use href="#m5" x="357.6" y="743.2"/><use href="#m5" x="358.0" y="734.8"/><use href="#m5" x="358.5" y="728.6"/><use href="#m5" x="358.9" y="723.6"/><use href="#m5" x="359.3" y="719.5"/><use href="#m5" x="359.8" y="716.0"/><use href="#m5" x="360.2" y="712.9"/><use href="#m5" x="360.7" y="710.1"/><use href="#m5" x="361.1" y="707.6"/><use href="#m5" x="361.6" y="705.3"/><use href="#m5" x="362.0" y="703.1"/><use href="#m5" x="362.2" y="702.1"/><use href="#m5" x="362.5" y="701.2"/><use href="#m5" x="362.7" y="700.2"/><use href="#m5" x="362.9" y="699.3"/><use href="#m5" x="363.1" y="698.4"/><use href="#m5" x="363.4" y="697.6"/><use href="#m5" x="363.6" y="696.8"/><use href="#m5" x="363.8" y="696.0"/><use href="#m5" x="364.0" y="695.2"/><use href="#m5" x="364.3" y="694.4"/><use href="#m5" x="364.5" y="693.7"/><use href="#m5" x="364.7" y="693.0"/><use href="#m5" x="364.9" y="692.2"/><use href="#m5" x="365.2" y="691.6"/><use href="#m5" x="365.4" y="690.9"/><use href="#m5" x="365.6" y="690.2"/><use href="#m5" x="365.8" y="689.6"/><use href="#m5" x="366.0" y="689.0"/><use href="#m5" x="366.3" y="688.4"/><use href="#m5" x="366.5" y="687.8"/><use href="#m5" x="366.7" y="687.2"/><use href="#m5" x="366.9" y="686.6"/><use href="#m5" x="367.2" y="686.0"/><use href="#m5" x="367.4" y="685.5"/><use href="#m5" x="367.6" y="684.9"/><use href="#m5" x="367.8" y="684.4"/><use href="#m5" x="368.1" y="683.9"/><use href="#m5" x="368.3" y="683.3"/><use href="#m5" x="368.5" y="682.8"/><use href="#m5" x="368.7" y="682.3"/><use href="#m5" x="368.9" y="681.8"/><use href="#m5" x="369.2" y="681.4"/><use href="#m5" x="369.4" y="680.9"/><use href="#m5" x="369.6" y="680.4"/><use href="#m5" x="369.8" y="679.9"/><use href="#m5" x="370.1" y="679.5"/><use href="#m5" x="370.3" y="679.0"/><use href="#m5" x="370.5" y="678.6"/><use href="#m5" x="370.7" y="678.2"/><use href="#m5" x="371.0" y="677.7"/><use href="#m5" x="371.2" y="677.3"/><use href="#m5" x="371.4" y="676.9"/><use href="#m5" x="371.6" y="676.5"/><use href="#m5" x="371.9" y="676.1"/><use href="#m5" x="372.1" y="675.7"/><use href="#m5" x="372.3" y="675.3"/><use href="#m5" x="372.5" y="674.9"/><use href="#m5" x="372.7" y="674.5"/><use href="#m5" x="373.0" y="674.1"/><use href="#m5" x="373.2" y="673.7"/><use href="#m5" x="373.4" y="673.4"/><use href="#m5" x="373.6" y="673.0"/><use href="#m5" x="373.9" y="672.6"/><use href="#m5" x="374.1" y="672.3"/><use href="#m5" x="374.3" y="671.9"/><use href="#m5" x="374.5" y="671.6"/><use href="#m5" x="374.8" y="671.2"/><use href="#m5" x="375.0" y="670.9"/><use href="#m5" x="375.2" y="670.6"/><use href="#m5" x="375.4" y="670.2"/><use href="#m5" x="375.6" y="669.9"/><use href="#m5" x="375.9" y="669.6"/><use href="#m5" x="376.1" y="669.2"/><use href="#m5" x="376.3" y="668.9"/><use href="#m5" x="376.5" y="668.6"/><use href="#m5" x="376.8" y="668.3"/><use href="#m5" x="377.0" y="668.0"/><use href="#m5" x="377.2" y="667.6"/><use href="#m5" x="377.4" y="667.3"/><use href="#m5" x="377.7" y="667.0"/><use href="#m5" x="377.9" y="666.7"/><use href="#m5" x="378.1" y="666.4"/><use href="#m5" x="378.3" y="666.1"/><use href="#m5" x="378.6" y="665.9"/><use href="#m5" x="378.8" y="665.6"/><use href="#m5" x="379.0" y="665.3"/><use href="#m5" x="379.2" y="665.0"/><use href="#m5" x="379.4" y="664.7"/><use href="#m5" x="379.7" y="664.4"/><use href="#m5" x="379.9" y="664.2"/><use href="#m5" x="380.1" y="663.9"/><use href="#m5" x="380.3" y="663.6"/><use href="#m5" x="380.6" y="663.3"/><use href="#m5" x="380.8" y="663.1"/><use href="#m5" x="381.0" y="662.8"/><use href="#m5" x="381.2" y="662.5"/><use href="#m5" x="381.5" y="662.3"/><use href="#m5" x="381.7" y="662.0"/><use href="#m5" x="381.9" y="661.8"/><use href="#m5" x="382.1" y="661.5"/><use href="#m5" x="382.4" y="661.2"/><use href="#m5" x="382.6" y="661.0"/><use href="#m5" x="382.8" y="660.7"/><use href="#m5" x="383.0" y="660.5"/><use href="#m5" x="383.2" y="660.3"/><use href="#m5" x="383.5" y="660.0"/><use href="#m5" x="383.7" y="659.8"/><use href="#m5" x="383.9" y="659.5"/><use href="#m5" x="384.1" y="659.3"/><use href="#m5" x="384.4" y="659.1"/><use href="#m5" x="384.6" y="658.8"/><use href="#m5" x="384.8" y="658.6"/><use href="#m5" x="385.0" y="658.4"/><use href="#m5" x="385.3" y="658.1"/><use href="#m5" x="385.5" y="657.9"/><use href="#m5" x="385.7" y="657.7"/><use href="#m5" x="385.9" y="657.4"/><use href="#m5" x="386.1" y="657.2"/><use href="#m5" x="386.4" y="657.0"/><use href="#m5" x="386.6" y="656.8"/><use href="#m5" x="386.8" y="656.6"/><use href="#m5" x="387.0" y="656.3"/><use href="#m5" x="387.3" y="656.1"/><use href="#m5" x="387.5" y="655.9"/><use href="#m5" x="387.7" y="655.7"/><use href="#m5" x="387.9" y="655.5"/><use href="#m5" x="388.2" y="655.3"/><use href="#m5" x="388.4" y="655.1"/><use href="#m5" x="388.6" y="654.8"/><use href="#m5" x="388.8" y="654.6"/><use href="#m5" x="389.0" y="654.4"/><use href="#m5" x="389.3" y="654.2"/><use href="#m5" x="389.5" y="654.0"/><use href="#m5" x="389.7" y="653.8"/><use href="#m5" x="389.9" y="653.6"/><use href="#m5" x="390.2" y="653.4"/><use href="#m5" x="390.4" y="653.2"/><use href="#m5" x="390.6" y="653.0"/><use href="#m5" x="390.8" y="652.8"/><use href="#m5" x="391.1" y="652.6"/><use href="#m5" x="391.3" y="652.4"/><use href="#m5" x="391.5" y="652.3"/><use href="#m5" x="391.7" y="652.1"/><use href="#m5" x="392.0" y="651.9"/><use href="#m5" x="392.2" y="651.7"/><use href="#m5" x="392.4" y="651.5"/><use href="#m5" x="392.6" y="651.3"/><use href="#m5" x="392.8" y="651.1"/><use href="#m5" x="393.1" y="650.9"/><use href="#m5" x="393.3" y="650.7"/><use href="#m5" x="393.5" y="650.6"/><use href="#m5" x="393.7" y="650.4"/><use href="#m5" x="394.0" y="650.2"/><use href="#m5" x="394.2" y="650.0"/><use href="#m5" x="394.4" y="649.8"/><use href="#m5" x="394.6" y="649.7"/><use href="#m5" x="394.9" y="649.5"/><use href="#m5" x="395.1" y="649.3"/><use href="#m5" x="395.3" y="649.1"/><use href="#m5" x="395.5" y="649.0"/><use href="#m5" x="395.8" y="648.8"/><use href="#m5" x="396.0" y="648.6"/><use href="#m5" x="396.2" y="648.4"/><use href="#m5" x="396.4" y="648.3"/><use href="#m5" x="396.6" y="648.1"/><use href="#m5" x="396.9" y="647.9"/><use href="#m5" x="397.1" y="647.8"/><use href="#m5" x="397.3" y="647.6"/><use href="#m5" x="397.5" y="647.4"/><use href="#m5" x="397.8" y="647.3"/><use href="#m5" x="398.0" y="647.1"/><use href="#m5" x="398.2" y="646.9"/><use href="#m5" x="398.4" y="646.8"/><use href="#m5" x="398.7" y="646.6"/><use href="#m5" x="398.9" y="646.4"/><use href="#m5" x="399.1" y="646.3"/><use href="#m5" x="399.3" y="646.1"/><use href="#m5" x="399.5" y="646.0"/><use href="#m5" x="399.8" y="645.8"/><use href="#m5" x="400.0" y="645.6"/><use href="#m5" x="400.2" y="645.5"/><use href="#m5" x="400.4" y="645.3"/><use href="#m5" x="400.7" y="645.2"/><use href="#m5" x="400.9" y="645.0"/><use href="#m5" x="401.1" y="644.9"/><use href="#m5" x="401.3" y="644.7"/><use href="#m5" x="446.0" y="612.4"/><use href="#m5" x="490.7" y="602.4"/><use href="#m5" x="535.3" y="595.5"/><use href="#m5" x="580.0" y="590.4"/><use href="#m5" x="624.7" y="585.9"/><use href="#m5" x="669.3" y="581.1"/><use href="#m5" x="714.0" y="577.4"/><use href="#m5" x="758.7" y="573.9"/><use href="#m5" x="803.3" y="570.5"/><use href="#m5" x="848.0" y="567.4"/><use href="#m5" x="892.7" y="564.7"/><use href="#m5" x="937.3" y="561.2"/><use href="#m5" x="982.0" y="558.5"/><use href="#m5" x="1026.7" y="555.0"/><use href="#m5" x="1071.3" y="552.8"/><use href="#m5" x="1116.0" y="550.0"/><use href="#m5" x="1160.7" y="547.1"/><use href="#m5" x="1205.3" y="544.8"/><use href="#m5" x="1250.0" y="542.5"/><use href="#m5" x="1294.7" y="540.2"/><use href="#m5" x="1339.3" y="537.9"/><use href="#m5" x="1384.0" y="535.6"/><use href="#m5" x="1428.7" y="532.9"/>
</g>
<g fill="#ff00ff">
<use href="#m6" x="357.1" y="742.1"/><use href="#m6" x="357.6" y="728.5"/><use href="#m6" x="358.0" y="720.1"/><use href="#m6" x="358.5" y="714.0"/><use href="#m6" x="358.9" y="709.1"/><use href="#m6" x="359.3" y="705.0"/><use href="#m6" x="359.8" y="701.5"/><use href="#m6" x="360.2" y="698.4"/><use href="#m6" x="360.7" y="695.6"/><use href="#m6" x="361.1" y="693.1"/><use href="#m6" x="361.6" y="690.9"/><use href="#m6" x="362.0" y="688.8"/><use href="#m6" x="362.2" y="687.8"/><use href="#m6" x="362.5" y="686.8"/><use href="#m6" x="362.7" y="685.9"/><use href="#m6" x="362.9" y="685.0"/><use href="#m6" x="363.1" y="684.1"/><use href="#m6" x="363.4" y="683.3"/><use href="#m6" x="363.6" y="682.5"/><use href="#m6" x="363.8" y="681.7"/><use href="#m6" x="364.0" y="680.9"/><use href="#m6" x="364.3" y="680.2"/><use href="#m6" x="364.5" y="679.4"/><use href="#m6" x="364.7" y="678.7"/><use href="#m6" x="364.9" y="678.0"/><use href="#m6" x="365.2" y="677.4"/><use href="#m6" x="365.4" y="676.7"/><use href="#m6" x="365.6" y="676.1"/><use href="#m6" x="365.8" y="675.4"/><use href="#m6" x="366.0" y="674.8"/><use href="#m6" x="366.3" y="674.2"/><use href="#m6" x="366.5" y="673.6"/><use href="#m6" x="366.7" y="673.1"/><use href="#m6" x="366.9" y="672.5"/><use href="#m6" x="367.2" y="671.9"/><use href="#m6" x="367.4" y="671.4"/><use href="#m6" x="367.6" y="670.8"/><use href="#m6" x="367.8" y="670.3"/><use href="#m6" x="368.1" y="669.8"/><use href="#m6" x="368.3" y="669.3"/><use href="#m6" x="368.5" y="668.8"/><use href="#m6" x="368.7" y="668.3"/><use href="#m6" x="368.9" y="667.8"/><use href="#m6" x="369.2" y="667.4"/><use href="#m6" x="369.4" y="666.9"/><use href="#m6" x="369.6" y="666.4"/><use href="#m6" x="369.8" y="666.0"/><use href="#m6" x="370.1" y="665.5"/><use href="#m6" x="370.3" y="665.1"/><use href="#m6" x="370.5" y="664.7"/><use href="#m6" x="370.7" y="664.2"/><use href="#m6" x="371.0" y="663.8"/><use href="#m6" x="371.2" y="663.4"/><use href="#m6" x="371.4" y="663.0"/><use href="#m6" x="371.6" y="662.6"/><use href="#m6" x="371.9" y="662.2"/><use href="#m6" x="372.1" y="661.8"/><use href="#m6" x="372.3" y="661.4"/><use href="#m6" x="372.5" y="661.0"/><use href="#m6" x="372.7" y="660.6"/><use href="#m6" x="373.0" y="660.3"/><use href="#m6" x="373.2" y="659.9"/><use href="#m6" x="373.4" y="659.5"/><use href="#m6" x="373.6" y="659.2"/><use href="#m6" x="373.9" y="658.8"/><use href="#m6" x="374.1" y="658.5"/><use href="#m6" x="374.3" y="658.1"/><use href="#m6" x="374.5" y="657.8"/><use href="#m6" x="374.8" y="657.4"/><use href="#m6" x="375.0" y="657.1"/><use href="#m6" x="375.2" y="656.8"/><use href="#m6" x="375.4" y="656.4"/><use href="#m6" x="375.6" y="656.1"/><use href="#m6" x="375.9" y="655.8"/><use href="#m6" x="376.1" y="655.5"/><use href="#m6" x="376.3" y="655.2"/><use href="#m6" x="376.5" y="654.9"/><use href="#m6" x="376.8" y="654.6"/><use href="#m6" x="377.0" y="654.2"/><use href="#m6" x="377.2" y="653.9"/><use href="#m6" x="377.4" y="653.6"/><use href="#m6" x="377.7" y="653.3"/><use href="#m6" x="377.9" y="653.1"/><use href="#m6" x="378.1" y="652.8"/><use href="#m6" x="378.3" y="652.5"/><use href="#m6" x="378.6" y="652.2"/><use href="#m6" x="378.8" y="651.9"/><use href="#m6" x="379.0" y="651.6"/><use href="#m6" x="379.2" y="651.3"/><use href="#m6" x="379.4" y="651.1"/><use href="#m6" x="379.7" y="650.8"/><use href="#m6" x="379.9" y="650.5"/><use href="#m6" x="380.1" y="650.3"/><use href="#m6" x="380.3" y="650.0"/><use href="#m6" x="380.6" y="649.7"/><use href="#m6" x="380.8" y="649.5"/><use href="#m6" x="381.0" y="649.2"/><use href="#m6" x="381.2" y="649.0"/><use href="#m6" x="381.5" y="648.7"/><use href="#m6" x="381.7" y="648.4"/><use href="#m6" x="381.9" y="648.2"/><use href="#m6" x="382.1" y="647.9"/><use href="#m6" x="382.4" y="647.7"/><use href="#m6" x="382.6" y="647.5"/><use href="#m6" x="382.8" y="647.2"/><use href="#m6" x="383.0" y="647.0"/><use href="#m6" x="383.2" y="646.7"/><use href="#m6" x="383.5" y="646.5"/><use href="#m6" x="383.7" y="646.3"/><use href="#m6" x="383.9" y="646.0"/><use href="#m6" x="384.1" y="645.8"/><use href="#m6" x="384.4" y="645.6"/><use href="#m6" x="384.6" y="645.3"/><use href="#m6" x="384.8" y="645.1"/><use href="#m6" x="385.0" y="644.9"/><use href="#m6" x="385.3" y="644.7"/><use href="#m6" x="385.5" y="644.4"/><use href="#m6" x="385.7" y="644.2"/><use href="#m6" x="385.9" y="644.0"/><use href="#m6" x="386.1" y="643.8"/><use href="#m6" x="386.4" y="643.6"/><use href="#m6" x="386.6" y="643.3"/><use href="#m6" x="386.8" y="643.1"/><use href="#m6" x="387.0" y="642.9"/><use href="#m6" x="387.3" y="642.7"/><use href="#m6" x="387.5" y="642.5"/><use href="#m6" x="387.7" y="642.3"/><use href="#m6" x="387.9" y="642.1"/><use href="#m6" x="388.2" y="641.9"/><use href="#m6" x="388.4" y="641.7"/><use href="#m6" x="388.6" y="641.5"/><use href="#m6" x="388.8" y="641.3"/><use href="#m6" x="389.0" y="641.1"/><use href="#m6" x="389.3" y="640.9"/><use href="#m6" x="389.5" y="640.7"/><use href="#m6" x="389.7" y="640.5"/><use href="#m6" x="389.9" y="640.3"/><use href="#m6" x="390.2" y="640.1"/><use href="#m6" x="390.4" y="639.9"/><use href="#m6" x="390.6" y="639.7"/><use href="#m6" x="390.8" y="639.5"/><use href="#m6" x="391.1" y="639.3"/><use href="#m6" x="391.3" y="639.1"/><use href="#m6" x="391.5" y="638.9"/><use href="#m6" x="391.7" y="638.8"/><use href="#m6" x="392.0" y="638.6"/><use href="#m6" x="392.2" y="638.4"/><use href="#m6" x="392.4" y="638.2"/><use href="#m6" x="392.6" y="638.0"/><use href="#m6" x="392.8" y="637.8"/><use href="#m6" x="393.1" y="637.7"/><use href="#m6" x="393.3" y="637.5"/><use href="#m6" x="393.5" y="637.3"/><use href="#m6" x="393.7" y="637.1"/><use href="#m6" x="394.0" y="636.9"/><use href="#m6" x="394.2" y="636.8"/><use href="#m6" x="394.4" y="636.6"/><use href="#m6" x="394.6" y="636.4"/><use href="#m6" x="394.9" y="636.2"/><use href="#m6" x="395.1" y="636.1"/><use href="#m6" x="395.3" y="635.9"/><use href="#m6" x="395.5" y="635.7"/><use href="#m6" x="395.8" y="635.6"/><use href="#m6" x="396.0" y="635.4"/><use href="#m6" x="396.2" y="635.2"/><use href="#m6" x="396.4" y="635.1"/><use href="#m6" x="396.6" y="634.9"/><use href="#m6" x="396.9" y="634.7"/><use href="#m6" x="397.1" y="634.6"/><use href="#m6" x="397.3" y="634.4"/><use href="#m6" x="397.5" y="634.2"/><use href="#m6" x="397.8" y="634.1"/><use href="#m6" x="398.0" y="633.9"/><use href="#m6" x="398.2" y="633.8"/><use href="#m6" x="398.4" y="633.6"/><use href="#m6" x="398.7" y="633.4"/><use href="#m6" x="398.9" y="633.3"/><use href="#m6" x="399.1" y="633.1"/><use href="#m6" x="399.3" y="633.0"/><use href="#m6" x="399.5" y="632.8"/><use href="#m6" x="399.8" y="632.7"/><use href="#m6" x="400.0" y="632.5"/><use href="#m6" x="400.2" y="632.4"/><use href="#m6" x="400.4" y="632.2"/><use href="#m6" x="400.7" y="632.1"/><use href="#m6" x="400.9" y="631.9"/><use href="#m6" x="401.1" y="631.7"/><use href="#m6" x="401.3" y="631.6"/><use href="#m6" x="446.0" y="601.5"/><use href="#m6" x="490.7" y="592.1"/><use href="#m6" x="535.3" y="585.2"/><use href="#m6" x="580.0" y="580.1"/><use href="#m6" x="624.7" y="575.6"/><use href="#m6" x="669.3" y="571.5"/><use href="#m6" x="714.0" y="567.4"/><use href="#m6" x="758.7" y="564.0"/><use href="#m6" x="803.3" y="560.5"/><use href="#m6" x="848.0" y="557.1"/><use href="#m6" x="892.7" y="554.4"/><use href="#m6" x="937.3" y="551.3"/><use href="#m6" x="982.0" y="548.5"/><use href="#m6" x="1026.7" y="545.0"/><use href="#m6" x="1071.3" y="542.2"/><use href="#m6" x="1116.0" y="540.0"/><use href="#m6" x="1160.7" y="537.4"/><use href="#m6" x="1205.3" y="534.9"/><use href="#m6" x="1250.0" y="532.6"/><use href="#m6" x="1294.7" y="530.3"/><use href="#m6" x="1339.3" y="527.8"/><use href="#m6" x="1384.0" y="525.1"/><use href="#m6" x="1428.7" y="522.8"/>
</g>
<g fill="#ff8000">
<use href="#m7" x="357.1" y="726.5"/><use href="#m7" x="357.6" y="710.1"/><use href="#m7" x="358.0" y="700.0"/><use href="#m7" x="358.5" y="692.5"/><use href="#m7" x="358.9" y="686.5"/><use href="#m7" x="359.3" y="681.5"/><use href="#m7" x="359.8" y="677.2"/><use href="#m7" x="360.2" y="673.4"/><use href="#m7" x="360.7" y="670.1"/><use href="#m7" x="361.1" y="667.0"/><use href="#m7" x="361.6" y="664.2"/><use href="#m7" x="362.0" y="661.6"/><use href="#m7" x="362.2" y="660.4"/><use href="#m7" x="362.5" y="659.2"/><use href="#m7" x="362.7" y="658.1"/><use href="#m7" x="362.9" y="657.0"/><use href="#m7" x="363.1" y="655.9"/><use href="#m7" x="363.4" y="654.9"/><use href="#m7" x="363.6" y="653.8"/><use href="#m7" x="363.8" y="652.9"/><use href="#m7" x="364.0" y="651.9"/><use href="#m7" x="364.3" y="651.0"/><use href="#m7" x="364.5" y="650.1"/><use href="#m7" x="364.7" y="649.2"/><use href="#m7" x="364.9" y="648.4"/><use href="#m7" x="365.2" y="647.5"/><use href="#m7" x="365.4" y="646.7"/><use href="#m7" x="365.6" y="645.9"/><use href="#m7" x="365.8" y="645.1"/><use href="#m7" x="366.0" y="644.4"/><use href="#m7" x="366.3" y="643.6"/><use href="#m7" x="366.5" y="642.9"/><use href="#m7" x="366.7" y="642.2"/><use href="#m7" x="366.9" y="641.5"/><use href="#m7" x="367.2" y="640.8"/><use href="#m7" x="367.4" y="640.1"/><use href="#m7" x="367.6" y="639.4"/><use href="#m7" x="367.8" y="638.8"/><use href="#m7" x="368.1" y="638.1"/><use href="#m7" x="368.3" y="637.5"/><use href="#m7" x="368.5" y="636.9"/><use href="#m7" x="368.7" y="636.3"/><use href="#m7" x="368.9" y="635.7"/><use href="#m7" x="369.2" y="635.1"/><use href="#m7" x="369.4" y="634.5"/><use href="#m7" x="369.6" y="633.9"/><use href="#m7" x="369.8" y="633.4"/><use href="#m7" x="370.1" y="632.8"/><use href="#m7" x="370.3" y="632.3"/><use href="#m7" x="370.5" y="631.7"/><use href="#m7" x="370.7" y="631.2"/><use href="#m7" x="371.0" y="630.7"/><use href="#m7" x="371.2" y="630.2"/><use href="#m7" x="371.4" y="629.7"/><use href="#m7" x="371.6" y="629.1"/><use href="#m7" x="371.9" y="628.7"/><use href="#m7" x="372.1" y="628.2"/><use href="#m7" x="372.3" y="627.7"/><use href="#m7" x="372.5" y="627.2"/><use href="#m7" x="372.7" y="626.7"/><use href="#m7" x="373.0" y="626.3"/><use href="#m7" x="373.2" y="625.8"/><use href="#m7" x="373.4" y="625.4"/><use href="#m7" x="373.6" y="624.9"/><use href="#m7" x="373.9" y="624.5"/><use href="#m7" x="374.1" y="624.0"/><use href="#m7" x="374.3" y="623.6"/><use href="#m7" x="374.5" y="623.2"/><use href="#m7" x="374.8" y="622.7"/><use href="#m7" x="375.0" y="622.3"/><use href="#m7" x="375.2" y="621.9"/><use href="#m7" x="375.4" y="621.5"/><use href="#m7" x="375.6" y="621.1"/><use href="#m7" x="375.9" y="620.7"/><use href="#m7" x="376.1" y="620.3"/><use href="#m7" x="376.3" y="619.9"/><use href="#m7" x="376.5" y="619.5"/><use href="#m7" x="376.8" y="619.1"/><use href="#m7" x="377.0" y="618.7"/><use href="#m7" x="377.2" y="618.4"/><use href="#m7" x="377.4" y="618.0"/><use href="#m7" x="377.7" y="617.6"/><use href="#m7" x="377.9" y="617.2"/><use href="#m7" x="378.1" y="616.9"/><use href="#m7" x="378.3" y="616.5"/><use href="#m7" x="378.6" y="616.2"/><use href="#m7" x="378.8" y="615.8"/><use href="#m7" x="379.0" y="615.5"/><use href="#m7" x="379.2" y="615.1"/><use href="#m7" x="379.4" y="614.8"/><use href="#m7" x="379.7" y="614.4"/><use href="#m7" x="379.9" y="614.1"/><use href="#m7" x="380.1" y="613.8"/><use href="#m7" x="380.3" y="613.4"/><use href="#m7" x="380.6" y="613.1"/><use href="#m7" x="380.8" y="612.8"/><use href="#m7" x="381.0" y="612.4"/><use href="#m7" x="381.2" y="612.1"/><use href="#m7" x="381.5" y="611.8"/><use href="#m7" x="381.7" y="611.5"/><use href="#m7" x="381.9" y="611.2"/><use href="#m7" x="382.1" y="610.9"/><use href="#m7" x="382.4" y="610.5"/><use href="#m7" x="382.6" y="610.2"/><use href="#m7" x="382.8" y="609.9"/><use href="#m7" x="383.0" y="609.6"/><use href="#m7" x="383.2" y="609.3"/><use href="#m7" x="383.5" y="609.0"/><use href="#m7" x="383.7" y="608.7"/><use href="#m7" x="383.9" y="608.4"/><use href="#m7" x="384.1" y="608.1"/><use href="#m7" x="384.4" y="607.9"/><use href="#m7" x="384.6" y="607.6"/><use href="#m7" x="384.8" y="607.3"/><use href="#m7" x="385.0" y="607.0"/><use href="#m7" x="385.3" y="606.7"/><use href="#m7" x="385.5" y="606.4"/><use href="#m7" x="385.7" y="606.2"/><use href="#m7" x="385.9" y="605.9"/><use href="#m7" x="386.1" y="605.6"/><use href="#m7" x="386.4" y="605.3"/><use href="#m7" x="386.6" y="605.1"/><use href="#m7" x="386.8" y="604.8"/><use href="#m7" x="387.0" y="604.5"/><use href="#m7" x="387.3" y="604.3"/><use href="#m7" x="387.5" y="604.0"/><use href="#m7" x="387.7" y="603.7"/><use href="#m7" x="387.9" y="603.5"/><use href="#m7" x="388.2" y="603.2"/><use href="#m7" x="388.4" y="603.0"/><use href="#m7" x="388.6" y="602.7"/><use href="#m7" x="388.8" y="602.5"/><use href="#m7" x="389.0" y="602.2"/><use href="#m7" x="389.3" y="602.0"/><use href="#m7" x="389.5" y="601.7"/><use href="#m7" x="389.7" y="601.5"/><use href="#m7" x="389.9" y="601.2"/><use href="#m7" x="390.2" y="601.0"/><use href="#m7" x="390.4" y="600.7"/><use href="#m7" x="390.6" y="600.5"/><use href="#m7" x="390.8" y="600.3"/><use href="#m7" x="391.1" y="600.0"/><use href="#m7" x="391.3" y="599.8"/><use href="#m7" x="391.5" y="599.5"/><use href="#m7" x="391.7" y="599.3"/><use href="#m7" x="392.0" y="599.1"/><use href="#m7" x="392.2" y="598.8"/><use href="#m7" x="392.4" y="598.6"/><use href="#m7" x="392.6" y="598.4"/><use href="#m7" x="392.8" y="598.2"/><use href="#m7" x="393.1" y="597.9"/><use href="#m7" x="393.3" y="597.7"/><use href="#m7" x="393.5" y="597.5"/><use href="#m7" x="393.7" y="597.3"/><use href="#m7" x="394.0" y="597.0"/><use href="#m7" x="394.2" y="596.8"/><use href="#m7" x="394.4" y="596.6"/><use href="#m7" x="394.6" y="596.4"/><use href="#m7" x="394.9" y="596.2"/><use href="#m7" x="395.1" y="595.9"/><use href="#m7" x="395.3" y="595.7"/><use href="#m7" x="395.5" y="595.5"/><use href="#m7" x="395.8" y="595.3"/><use href="#m7" x="396.0" y="595.1"/><use href="#m7" x="396.2" y="594.9"/><use href="#m7" x="396.4" y="594.7"/><use href="#m7" x="396.6" y="594.5"/><use href="#m7" x="396.9" y="594.2"/><use href="#m7" x="397.1" y="594.0"/><use href="#m7" x="397.3" y="593.8"/><use href="#m7" x="397.5" y="593.6"/><use href="#m7" x="397.8" y="593.4"/><use href="#m7" x="398.0" y="593.2"/><use href="#m7" x="398.2" y="593.0"/><use href="#m7" x="398.4" y="592.8"/><use href="#m7" x="398.7" y="592.6"/><use href="#m7" x="398.9" y="592.4"/><use href="#m7" x="399.1" y="592.2"/><use href="#m7" x="399.3" y="592.0"/><use href="#m7" x="399.5" y="591.8"/><use href="#m7" x="399.8" y="591.6"/><use href="#m7" x="400.0" y="591.4"/><use href="#m7" x="400.2" y="591.3"/><use href="#m7" x="400.4" y="591.1"/><use href="#m7" x="400.7" y="590.9"/><use href="#m7" x="400.9" y="590.7"/><use href="#m7" x="401.1" y="590.5"/><use href="#m7" x="401.3" y="590.3"/><use href="#m7" x="446.0" y="562.2"/><use href="#m7" x="490.7" y="545.1"/><use href="#m7" x="535.3" y="533.1"/><use href="#m7" x="580.0" y="522.8"/><use href="#m7" x="624.7" y="514.9"/><use href="#m7" x="669.3" y="507.4"/><use href="#m7" x="714.0" y="501.2"/><use href="#m7" x="758.7" y="495.4"/><use href="#m7" x="803.3" y="490.6"/><use href="#m7" x="848.0" y="485.8"/><use href="#m7" x="892.7" y="481.6"/><use href="#m7" x="937.3" y="477.5"/><use href="#m7" x="982.0" y="473.8"/><use href="#m7" x="1026.7" y="470.3"/><use href="#m7" x="1071.3" y="466.9"/><use href="#m7" x="1116.0" y="463.9"/><use href="#m7" x="1160.7" y="461.0"/><use href="#m7" x="1205.3" y="458.0"/><use href="#m7" x="1250.0" y="455.0"/><use href="#m7" x="1294.7" y="452.7"/><use href="#m7" x="1339.3" y="450.2"/><use href="#m7" x="1384.0" y="447.9"/><use href="#m7" x="1428.7" y="445.9"/>
</g>
<g>
<g fill="#808000"><use href="#m8f" x="358.9" y="610.6"/><use href="#m8f" x="359.3" y="601.9"/><use href="#m8f" x="359.8" y="594.3"/><use href="#m8f" x="360.2" y="587.6"/><use href="#m8f" x="360.7" y="581.6"/><use href="#m8f" x="361.1" y="576.1"/><use href="#m8f" x="361.6" y="571.0"/><use href="#m8f" x="362.0" y="566.4"/><use href="#m8f" x="362.2" y="564.2"/><use href="#m8f" x="362.5" y="562.1"/><use href="#m8f" x="362.7" y="560.0"/><use href="#m8f" x="362.9" y="558.0"/><use href="#m8f" x="363.1" y="556.1"/><use href="#m8f" x="363.4" y="554.2"/><use href="#m8f" x="363.6" y="552.3"/><use href="#m8f" x="363.8" y="550.6"/><use href="#m8f" x="364.0" y="548.8"/><use href="#m8f" x="364.3" y="547.1"/><use href="#m8f" x="364.5" y="545.5"/><use href="#m8f" x="364.7" y="543.9"/><use href="#m8f" x="364.9" y="542.3"/><use href="#m8f" x="365.2" y="540.8"/><use href="#m8f" x="365.4" y="539.3"/><use href="#m8f" x="365.6" y="537.8"/><use href="#m8f" x="365.8" y="536.4"/><use href="#m8f" x="366.0" y="535.0"/><use href="#m8f" x="366.3" y="533.6"/><use href="#m8f" x="366.5" y="532.2"/><use href="#m8f" x="366.7" y="530.9"/><use href="#m8f" x="366.9" y="529.6"/><use href="#m8f" x="367.2" y="528.3"/><use href="#m8f" x="367.4" y="527.1"/><use href="#m8f" x="367.6" y="525.9"/><use href="#m8f" x="367.8" y="524.7"/><use href="#m8f" x="368.1" y="523.5"/><use href="#m8f" x="368.3" y="522.3"/><use href="#m8f" x="368.5" y="521.1"/><use href="#m8f" x="368.7" y="520.0"/><use href="#m8f" x="368.9" y="518.9"/><use href="#m8f" x="369.2" y="517.8"/><use href="#m8f" x="369.4" y="516.7"/><use href="#m8f" x="369.6" y="515.6"/><use href="#m8f" x="369.8" y="514.6"/><use href="#m8f" x="370.1" y="513.6"/><use href="#m8f" x="370.3" y="512.5"/><use href="#m8f" x="370.5" y="511.5"/><use href="#m8f" x="370.7" y="510.5"/><use href="#m8f" x="371.0" y="509.6"/><use href="#m8f" x="371.2" y="508.6"/><use href="#m8f" x="371.4" y="507.6"/><use href="#m8f" x="371.6" y="506.7"/><use href="#m8f" x="371.9" y="505.8"/><use href="#m8f" x="372.1" y="504.9"/><use href="#m8f" x="372.3" y="504.0"/><use href="#m8f" x="372.5" y="503.1"/><use href="#m8f" x="372.7" y="502.2"/><use href="#m8f" x="373.0" y="501.3"/><use href="#m8f" x="373.2" y="500.4"/><use href="#m8f" x="373.4" y="499.6"/><use href="#m8f" x="373.6" y="498.7"/><use href="#m8f" x="373.9" y="497.9"/><use href="#m8f" x="374.1" y="497.1"/><use href="#m8f" x="374.3" y="496.3"/><use href="#m8f" x="374.5" y="495.5"/><use href="#m8f" x="374.8" y="494.7"/><use href="#m8f" x="375.0" y="493.9"/><use href="#m8f" x="375.2" y="493.1"/><use href="#m8f" x="375.4" y="492.3"/><use href="#m8f" x="375.6" y="491.5"/><use href="#m8f" x="375.9" y="490.8"/><use href="#m8f" x="376.1" y="490.0"/><use href="#m8f" x="376.3" y="489.3"/><use href="#m8f" x="376.5" y="488.5"/><use href="#m8f" x="376.8" y="487.8"/><use href="#m8f" x="377.0" y="487.1"/><use href="#m8f" x="377.2" y="486.4"/><use href="#m8f" x="377.4" y="485.7"/><use href="#m8f" x="377.7" y="485.0"/><use href="#m8f" x="377.9" y="484.3"/><use href="#m8f" x="378.1" y="483.6"/><use href="#m8f" x="378.3" y="482.9"/><use href="#m8f" x="378.6" y="482.2"/><use href="#m8f" x="378.8" y="481.5"/><use href="#m8f" x="379.0" y="480.9"/><use href="#m8f" x="379.2" y="480.2"/><use href="#m8f" x="379.4" y="479.6"/><use href="#m8f" x="379.7" y="478.9"/><use href="#m8f" x="379.9" y="478.3"/><use href="#m8f" x="380.1" y="477.6"/><use href="#m8f" x="380.3" y="477.0"/><use href="#m8f" x="380.6" y="476.4"/><use href="#m8f" x="380.8" y="475.7"/><use href="#m8f" x="381.0" y="475.1"/><use href="#m8f" x="381.2" y="474.5"/><use href="#m8f" x="381.5" y="473.9"/><use href="#m8f" x="381.7" y="473.3"/><use href="#m8f" x="381.9" y="472.7"/><use href="#m8f" x="382.1" y="472.1"/><use href="#m8f" x="382.4" y="471.5"/><use href="#m8f" x="382.6" y="470.9"/><use href="#m8f" x="382.8" y="470.3"/><use href="#m8f" x="383.0" y="469.7"/><use href="#m8f" x="383.2" y="469.2"/><use href="#m8f" x="383.5" y="468.6"/><use href="#m8f" x="383.7" y="468.0"/><use href="#m8f" x="383.9" y="467.5"/><use href="#m8f" x="384.1" y="466.9"/><use href="#m8f" x="384.4" y="466.4"/><use href="#m8f" x="384.6" y="465.8"/><use href="#m8f" x="384.8" y="465.3"/><use href="#m8f" x="385.0" y="464.7"/><use href="#m8f" x="385.3" y="464.2"/><use href="#m8f" x="385.5" y="463.6"/><use href="#m8f" x="385.7" y="463.1"/><use href="#m8f" x="385.9" y="462.6"/><use href="#m8f" x="386.1" y="462.0"/><use href="#m8f" x="386.4" y="461.5"/><use href="#m8f" x="386.6" y="461.0"/><use href="#m8f" x="386.8" y="460.5"/><use href="#m8f" x="387.0" y="460.0"/><use href="#m8f" x="387.3" y="459.5"/><use href="#m8f" x="387.5" y="459.0"/><use href="#m8f" x="387.7" y="458.5"/><use href="#m8f" x="387.9" y="458.0"/><use href="#m8f" x="388.2" y="457.5"/><use href="#m8f" x="388.4" y="457.0"/><use href="#m8f" x="388.6" y="456.5"/><use href="#m8f" x="388.8" y="456.0"/><use href="#m8f" x="389.0" y="455.5"/><use href="#m8f" x="389.3" y="455.0"/><use href="#m8f" x="389.5" y="454.5"/><use href="#m8f" x="389.7" y="454.1"/><use href="#m8f" x="389.9" y="453.6"/><use href="#m8f" x="390.2" y="453.1"/><use href="#m8f" x="390.4" y="452.7"/><use href="#m8f" x="390.6" y="452.2"/><use href="#m8f" x="390.8" y="451.7"/><use href="#m8f" x="391.1" y="451.3"/><use href="#m8f" x="391.3" y="450.8"/><use href="#m8f" x="391.5" y="450.3"/><use href="#m8f" x="391.7" y="449.9"/><use href="#m8f" x="392.0" y="449.4"/><use href="#m8f" x="392.2" y="449.0"/><use href="#m8f" x="392.4" y="448.5"/><use href="#m8f" x="392.6" y="448.1"/><use href="#m8f" x="392.8" y="447.7"/><use href="#m8f" x="393.1" y="447.2"/><use href="#m8f" x="393.3" y="446.8"/><use href="#m8f" x="393.5" y="446.4"/><use href="#m8f" x="393.7" y="445.9"/><use href="#m8f" x="394.0" y="445.5"/><use href="#m8f" x="394.2" y="445.1"/><use href="#m8f" x="394.4" y="444.6"/><use href="#m8f" x="394.6" y="444.2"/><use href="#m8f" x="394.9" y="443.8"/><use href="#m8f" x="395.1" y="443.4"/><use href="#m8f" x="395.3" y="443.0"/><use href="#m8f" x="395.5" y="442.5"/><use href="#m8f" x="395.8" y="442.1"/><use href="#m8f" x="396.0" y="441.7"/><use href="#m8f" x="396.2" y="441.3"/><use href="#m8f" x="396.4" y="440.9"/><use href="#m8f" x="396.6" y="440.5"/><use href="#m8f" x="396.9" y="440.1"/><use href="#m8f" x="397.1" y="439.7"/><use href="#m8f" x="397.3" y="439.3"/><use href="#m8f" x="397.5" y="438.9"/><use href="#m8f" x="397.8" y="438.5"/><use href="#m8f" x="398.0" y="438.1"/><use href="#m8f" x="398.2" y="437.7"/><use href="#m8f" x="398.4" y="437.3"/><use href="#m8f" x="398.7" y="436.9"/><use href="#m8f" x="398.9" y="436.5"/><use href="#m8f" x="399.1" y="436.2"/><use href="#m8f" x="399.3" y="435.8"/><use href="#m8f" x="399.5" y="435.4"/><use href="#m8f" x="399.8" y="435.0"/><use href="#m8f" x="400.0" y="434.6"/><use href="#m8f" x="400.2" y="434.3"/><use href="#m8f" x="400.4" y="433.9"/><use href="#m8f" x="400.7" y="433.5"/><use href="#m8f" x="400.9" y="433.1"/><use href="#m8f" x="401.1" y="432.8"/></g>
<use href="#m8" x="357.1" y="678.5"/><use href="#m8" x="357.6" y="651.2"/><use href="#m8" x="358.0" y="633.9"/><use href="#m8" x="358.5" y="621.0"/><use href="#m8" x="358.9" y="610.6"/><use href="#m8" x="359.3" y="601.9"/><use href="#m8" x="359.8" y="594.3"/><use href="#m8" x="360.2" y="587.6"/><use href="#m8" x="360.7" y="581.6"/><use href="#m8" x="361.1" y="576.1"/><use href="#m8" x="361.6" y="571.0"/><use href="#m8" x="362.0" y="566.4"/><use href="#m8" x="362.2" y="564.2"/><use href="#m8" x="362.5" y="562.1"/><use href="#m8" x="362.7" y="560.0"/><use href="#m8" x="362.9" y="558.0"/><use href="#m8" x="363.1" y="556.1"/><use href="#m8" x="363.4" y="554.2"/><use href="#m8" x="363.6" y="552.3"/><use href="#m8" x="363.8" y="550.6"/><use href="#m8" x="364.0" y="548.8"/><use href="#m8" x="364.3" y="547.1"/><use href="#m8" x="364.5" y="545.5"/><use href="#m8" x="364.7" y="543.9"/><use href="#m8" x="364.9" y="542.3"/><use href="#m8" x="365.2" y="540.8"/><use href="#m8" x="365.4" y="539.3"/><use href="#m8" x="365.6" y="537.8"/><use href="#m8" x="365.8" y="536.4"/><use href="#m8" x="366.0" y="535.0"/><use href="#m8" x="366.3" y="533.6"/><use href="#m8" x="366.5" y="532.2"/><use href="#m8" x="366.7" y="530.9"/><use href="#m8" x="366.9" y="529.6"/><use href="#m8" x="367.2" y="528.3"/><use href="#m8" x="367.4" y="527.1"/><use href="#m8" x="367.6" y="525.9"/><use href="#m8" x="367.8" y="524.7"/><use href="#m8" x="368.1" y="523.5"/><use href="#m8" x="368.3" y="522.3"/><use href="#m8" x="368.5" y="521.1"/><use href="#m8" x="368.7" y="520.0"/><use href="#m8" x="368.9" y="518.9"/><use href="#m8" x="369.2" y="517.8"/><use href="#m8" x="369.4" y="516.7"/><use href="#m8" x="369.6" y="515.6"/><use href="#m8" x="369.8" y="514.6"/><use href="#m8" x="370.1" y="513.6"/><use href="#m8" x="370.3" y="512.5"/><use href="#m8" x="370.5" y="511.5"/><use href="#m8" x="370.7" y="510.5"/><use href="#m8" x="371.0" y="509.6"/><use href="#m8" x="371.2" y="508.6"/><use href="#m8" x="371.4" y="507.6"/><use href="#m8" x="371.6" y="506.7"/><use href="#m8" x="371.9" y="505.8"/><use href="#m8" x="372.1" y="504.9"/><use href="#m8" x="372.3" y="504.0"/><use href="#m8" x="372.5" y="503.1"/><use href="#m8" x="372.7" y="502.2"/><use href="#m8" x="373.0" y="501.3"/><use href="#m8" x="373.2" y="500.4"/><use href="#m8" x="373.4" y="499.6"/><use href="#m8" x="373.6" y="498.7"/><use href="#m8" x="373.9" y="497.9"/><use href="#m8" x="374.1" y="497.1"/><use href="#m8" x="374.3" y="496.3"/><use href="#m8" x="374.5" y="495.5"/><use href="#m8" x="374.8" y="494.7"/><use href="#m8" x="375.0" y="493.9"/><use href="#m8" x="375.2" y="493.1"/><use href="#m8" x="375.4" y="492.3"/><use href="#m8" x="375.6" y="491.5"/><use href="#m8" x="375.9" y="490.8"/><use href="#m8" x="376.1" y="490.0"/><use href="#m8" x="376.3" y="489.3"/><use href="#m8" x="376.5" y="488.5"/><use href="#m8" x="376.8" y="487.8"/><use href="#m8" x="377.0" y="487.1"/><use href="#m8" x="377.2" y="486.4"/><use href="#m8" x="377.4" y="485.7"/><use href="#m8" x="377.7" y="485.0"/><use href="#m8" x="377.9" y="484.3"/><use href="#m8" x="378.1" y="483.6"/><use href="#m8" x="378.3" y="482.9"/><use href="#m8" x="378.6" y="482.2"/><use href="#m8" x="378.8" y="481.5"/><use href="#m8" x="379.0" y="480.9"/><use href="#m8" x="379.2" y="480.2"/><use href="#m8" x="379.4" y="479.6"/><use href="#m8" x="379.7" y="478.9"/><use href="#m8" x="379.9" y="478.3"/><use href="#m8" x="380.1" y="477.6"/><use href="#m8" x="380.3" y="477.0"/><use href="#m8" x="380.6" y="476.4"/><use href="#m8" x="380.8" y="475.7"/><use href="#m8" x="381.0" y="475.1"/><use href="#m8" x="381.2" y="474.5"/><use href="#m8" x="381.5" y="473.9"/><use href="#m8" x="381.7" y="473.3"/><use href="#m8" x="381.9" y="472.7"/><use href="#m8" x="382.1" y="472.1"/><use href="#m8" x="382.4" y="471.5"/><use href="#m8" x="382.6" y="470.9"/><use href="#m8" x="382.8" y="470.3"/><use href="#m8" x="383.0" y="469.7"/><use href="#m8" x="383.2" y="469.2"/><use href="#m8" x="383.5" y="468.6"/><use href="#m8" x="383.7" y="468.0"/><use href="#m8" x="383.9" y="467.5"/><use href="#m8" x="384.1" y="466.9"/><use href="#m8" x="384.4" y="466.4"/><use href="#m8" x="384.6" y="465.8"/><use href="#m8" x="384.8" y="465.3"/><use href="#m8" x="385.0" y="464.7"/><use href="#m8" x="385.3" y="464.2"/><use href="#m8" x="385.5" y="463.6"/><use href="#m8" x="385.7" y="463.1"/><use href="#m8" x="385.9" y="462.6"/><use href="#m8" x="386.1" y="462.0"/><use href="#m8" x="386.4" y="461.5"/><use href="#m8" x="386.6" y="461.0"/><use href="#m8" x="386.8" y="460.5"/><use href="#m8" x="387.0" y="460.0"/><use href="#m8" x="387.3" y="459.5"/><use href="#m8" x="387.5" y="459.0"/><use href="#m8" x="387.7" y="458.5"/><use href="#m8" x="387.9" y="458.0"/><use href="#m8" x="388.2" y="457.5"/><use href="#m8" x="388.4" y="457.0"/><use href="#m8" x="388.6" y="456.5"/><use href="#m8" x="388.8" y="456.0"/><use href="#m8" x="389.0" y="455.5"/><use href="#m8" x="389.3" y="455.0"/><use href="#m8" x="389.5" y="454.5"/><use href="#m8" x="389.7" y="454.1"/><use href="#m8" x="389.9" y="453.6"/><use href="#m8" x="390.2" y="453.1"/><use href="#m8" x="390.4" y="452.7"/><use href="#m8" x="390.6" y="452.2"/><use href="#m8" x="390.8" y="451.7"/><use href="#m8" x="391.1" y="451.3"/><use href="#m8" x="391.3" y="450.8"/><use href="#m8" x="391.5" y="450.3"/><use href="#m8" x="391.7" y="449.9"/><use href="#m8" x="392.0" y="449.4"/><use href="#m8" x="392.2" y="449.0"/><use href="#m8" x="392.4" y="448.5"/><use href="#m8" x="392.6" y="448.1"/><use href="#m8" x="392.8" y="447.7"/><use href="#m8" x="393.1" y="447.2"/><use href="#m8" x="393.3" y="446.8"/><use href="#m8" x="393.5" y="446.4"/><use href="#m8" x="393.7" y="445.9"/><use href="#m8" x="394.0" y="445.5"/><use href="#m8" x="394.2" y="445.1"/><use href="#m8" x="394.4" y="444.6"/><use href="#m8" x="394.6" y="444.2"/><use href="#m8" x="394.9" y="443.8"/><use href="#m8" x="395.1" y="443.4"/><use href="#m8" x="395.3" y="443.0"/><use href="#m8" x="395.5" y="442.5"/><use href="#m8" x="395.8" y="442.1"/><use href="#m8" x="396.0" y="441.7"/><use href="#m8" x="396.2" y="441.3"/><use href="#m8" x="396.4" y="440.9"/><use href="#m8" x="396.6" y="440.5"/><use href="#m8" x="396.9" y="440.1"/><use href="#m8" x="397.1" y="439.7"/><use href="#m8" x="397.3" y="439.3"/><use href="#m8" x="397.5" y="438.9"/><use href="#m8" x="397.8" y="438.5"/><use href="#m8" x="398.0" y="438.1"/><use href="#m8" x="398.2" y="437.7"/><use href="#m8" x="398.4" y="437.3"/><use href="#m8" x="398.7" y="436.9"/><use href="#m8" x="398.9" y="436.5"/><use href="#m8" x="399.1" y="436.2"/><use href="#m8" x="399.3" y="435.8"/><use href="#m8" x="399.5" y="435.4"/><use href="#m8" x="399.8" y="435.0"/><use href="#m8" x="400.0" y="434.6"/><use href="#m8" x="400.2" y="434.3"/><use href="#m8" x="400.4" y="433.9"/><use href="#m8" x="400.7" y="433.5"/><use href="#m8" x="400.9" y="433.1"/><use href="#m8" x="401.1" y="432.8"/><use href="#m8" x="401.3" y="432.4"/><use href="#m8" x="446.0" y="378.7"/><use href="#m8" x="490.7" y="344.4"/><use href="#m8" x="535.3" y="318.7"/><use href="#m8" x="580.0" y="298.1"/><use href="#m8" x="624.7" y="280.9"/><use href="#m8" x="669.3" y="266.2"/><use href="#m8" x="714.0" y="252.8"/><use href="#m8" x="758.7" y="240.8"/><use href="#m8" x="803.3" y="230.5"/><use href="#m8" x="848.0" y="220.6"/><use href="#m8" x="892.7" y="211.0"/><use href="#m8" x="937.3" y="202.4"/><use href="#m8" x="982.0" y="194.2"/><use href="#m8" x="1026.7" y="186.8"/><use href="#m8" x="1071.3" y="179.5"/><use href="#m8" x="1116.0" y="172.8"/><use href="#m8" x="1160.7" y="166.4"/><use href="#m8" x="1205.3" y="160.4"/><use href="#m8" x="1250.0" y="154.5"/><use href="#m8" x="1294.7" y="148.8"/><use href="#m8" x="1339.3" y="143.3"/><use href="#m8" x="1384.0" y="138.0"/><use href="#m8" x="1428.7" y="133.4"/>
</g>
<g fill="#000080">
<use href="#m9" x="357.1" y="702.0"/><use href="#m9" x="357.6" y="680.4"/><use href="#m9" x="358.0" y="666.8"/><use href="#m9" x="358.5" y="656.7"/><use href="#m9" x="358.9" y="648.7"/><use href="#m9" x="359.3" y="641.9"/><use href="#m9" x="359.8" y="636.0"/><use href="#m9" x="360.2" y="630.9"/><use href="#m9" x="360.7" y="626.3"/><use href="#m9" x="361.1" y="622.1"/><use href="#m9" x="361.6" y="618.2"/><use href="#m9" x="362.0" y="614.6"/><use href="#m9" x="362.2" y="613.0"/><use href="#m9" x="362.5" y="611.3"/><use href="#m9" x="362.7" y="609.8"/><use href="#m9" x="362.9" y="608.2"/><use href="#m9" x="363.1" y="606.8"/><use href="#m9" x="363.4" y="605.3"/><use href="#m9" x="363.6" y="604.0"/><use href="#m9" x="363.8" y="602.6"/><use href="#m9" x="364.0" y="601.3"/><use href="#m9" x="364.3" y="600.0"/><use href="#m9" x="364.5" y="598.8"/><use href="#m9" x="364.7" y="597.5"/><use href="#m9" x="364.9" y="596.3"/><use href="#m9" x="365.2" y="595.2"/><use href="#m9" x="365.4" y="594.1"/><use href="#m9" x="365.6" y="592.9"/><use href="#m9" x="365.8" y="591.9"/><use href="#m9" x="366.0" y="590.8"/><use href="#m9" x="366.3" y="589.8"/><use href="#m9" x="366.5" y="588.7"/><use href="#m9" x="366.7" y="587.7"/><use href="#m9" x="366.9" y="586.8"/><use href="#m9" x="367.2" y="585.8"/><use href="#m9" x="367.4" y="584.8"/><use href="#m9" x="367.6" y="583.9"/><use href="#m9" x="367.8" y="583.0"/><use href="#m9" x="368.1" y="582.1"/><use href="#m9" x="368.3" y="581.2"/><use href="#m9" x="368.5" y="580.4"/><use href="#m9" x="368.7" y="579.5"/><use href="#m9" x="368.9" y="578.7"/><use href="#m9" x="369.2" y="577.8"/><use href="#m9" x="369.4" y="577.0"/><use href="#m9" x="369.6" y="576.2"/><use href="#m9" x="369.8" y="575.4"/><use href="#m9" x="370.1" y="574.7"/><use href="#m9" x="370.3" y="573.9"/><use href="#m9" x="370.5" y="573.1"/><use href="#m9" x="370.7" y="572.4"/><use href="#m9" x="371.0" y="571.7"/><use href="#m9" x="371.2" y="570.9"/><use href="#m9" x="371.4" y="570.2"/><use href="#m9" x="371.6" y="569.5"/><use href="#m9" x="371.9" y="568.8"/><use href="#m9" x="372.1" y="568.1"/><use href="#m9" x="372.3" y="567.5"/><use href="#m9" x="372.5" y="566.8"/><use href="#m9" x="372.7" y="566.1"/><use href="#m9" x="373.0" y="565.5"/><use href="#m9" x="373.2" y="564.8"/><use href="#m9" x="373.4" y="564.2"/><use href="#m9" x="373.6" y="563.6"/><use href="#m9" x="373.9" y="562.9"/><use href="#m9" x="374.1" y="562.3"/><use href="#m9" x="374.3" y="561.7"/><use href="#m9" x="374.5" y="561.1"/><use href="#m9" x="374.8" y="560.5"/><use href="#m9" x="375.0" y="559.9"/><use href="#m9" x="375.2" y="559.3"/><use href="#m9" x="375.4" y="558.8"/><use href="#m9" x="375.6" y="558.2"/><use href="#m9" x="375.9" y="557.6"/><use href="#m9" x="376.1" y="557.1"/><use href="#m9" x="376.3" y="556.5"/><use href="#m9" x="376.5" y="556.0"/><use href="#m9" x="376.8" y="555.4"/><use href="#m9" x="377.0" y="554.9"/><use href="#m9" x="377.2" y="554.3"/><use href="#m9" x="377.4" y="553.8"/><use href="#m9" x="377.7" y="553.3"/><use href="#m9" x="377.9" y="552.8"/><use href="#m9" x="378.1" y="552.2"/><use href="#m9" x="378.3" y="551.7"/><use href="#m9" x="378.6" y="551.2"/><use href="#m9" x="378.8" y="550.7"/><use href="#m9" x="379.0" y="550.2"/><use href="#m9" x="379.2" y="549.7"/><use href="#m9" x="379.4" y="549.3"/><use href="#m9" x="379.7" y="548.8"/><use href="#m9" x="379.9" y="548.3"/><use href="#m9" x="380.1" y="547.8"/><use href="#m9" x="380.3" y="547.3"/><use href="#m9" x="380.6" y="546.9"/><use href="#m9" x="380.8" y="546.4"/><use href="#m9" x="381.0" y="546.0"/><use href="#m9" x="381.2" y="545.5"/><use href="#m9" x="381.5" y="545.0"/><use href="#m9" x="381.7" y="544.6"/><use href="#m9" x="381.9" y="544.1"/><use href="#m9" x="382.1" y="543.7"/><use href="#m9" x="382.4" y="543.3"/><use href="#m9" x="382.6" y="542.8"/><use href="#m9" x="382.8" y="542.4"/><use href="#m9" x="383.0" y="542.0"/><use href="#m9" x="383.2" y="541.5"/><use href="#m9" x="383.5" y="541.1"/><use href="#m9" x="383.7" y="540.7"/><use href="#m9" x="383.9" y="540.3"/><use href="#m9" x="384.1" y="539.9"/><use href="#m9" x="384.4" y="539.5"/><use href="#m9" x="384.6" y="539.0"/><use href="#m9" x="384.8" y="538.6"/><use href="#m9" x="385.0" y="538.2"/><use href="#m9" x="385.3" y="537.8"/><use href="#m9" x="385.5" y="537.4"/><use href="#m9" x="385.7" y="537.0"/><use href="#m9" x="385.9" y="536.7"/><use href="#m9" x="386.1" y="536.3"/><use href="#m9" x="386.4" y="535.9"/><use href="#m9" x="386.6" y="535.5"/><use href="#m9" x="386.8" y="535.1"/><use href="#m9" x="387.0" y="534.7"/><use href="#m9" x="387.3" y="534.4"/><use href="#m9" x="387.5" y="534.0"/><use href="#m9" x="387.7" y="533.6"/><use href="#m9" x="387.9" y="533.2"/><use href="#m9" x="388.2" y="532.9"/><use href="#m9" x="388.4" y="532.5"/><use href="#m9" x="388.6" y="532.1"/><use href="#m9" x="388.8" y="531.8"/><use href="#m9" x="389.0" y="531.4"/><use href="#m9" x="389.3" y="531.1"/><use href="#m9" x="389.5" y="530.7"/><use href="#m9" x="389.7" y="530.4"/><use href="#m9" x="389.9" y="530.0"/><use href="#m9" x="390.2" y="529.7"/><use href="#m9" x="390.4" y="529.3"/><use href="#m9" x="390.6" y="529.0"/><use href="#m9" x="390.8" y="528.6"/><use href="#m9" x="391.1" y="528.3"/><use href="#m9" x="391.3" y="528.0"/><use href="#m9" x="391.5" y="527.6"/><use href="#m9" x="391.7" y="527.3"/><use href="#m9" x="392.0" y="526.9"/><use href="#m9" x="392.2" y="526.6"/><use href="#m9" x="392.4" y="526.3"/><use href="#m9" x="392.6" y="526.0"/><use href="#m9" x="392.8" y="525.6"/><use href="#m9" x="393.1" y="525.3"/><use href="#m9" x="393.3" y="525.0"/><use href="#m9" x="393.5" y="524.7"/><use href="#m9" x="393.7" y="524.4"/><use href="#m9" x="394.0" y="524.0"/><use href="#m9" x="394.2" y="523.7"/><use href="#m9" x="394.4" y="523.4"/><use href="#m9" x="394.6" y="523.1"/><use href="#m9" x="394.9" y="522.8"/><use href="#m9" x="395.1" y="522.5"/><use href="#m9" x="395.3" y="522.2"/><use href="#m9" x="395.5" y="521.9"/><use href="#m9" x="395.8" y="521.6"/><use href="#m9" x="396.0" y="521.3"/><use href="#m9" x="396.2" y="521.0"/><use href="#m9" x="396.4" y="520.7"/><use href="#m9" x="396.6" y="520.4"/><use href="#m9" x="396.9" y="520.1"/><use href="#m9" x="397.1" y="519.8"/><use href="#m9" x="397.3" y="519.5"/><use href="#m9" x="397.5" y="519.2"/><use href="#m9" x="397.8" y="518.9"/><use href="#m9" x="398.0" y="518.6"/><use href="#m9" x="398.2" y="518.3"/><use href="#m9" x="398.4" y="518.0"/><use href="#m9" x="398.7" y="517.7"/><use href="#m9" x="398.9" y="517.4"/><use href="#m9" x="399.1" y="517.2"/><use href="#m9" x="399.3" y="516.9"/><use href="#m9" x="399.5" y="516.6"/><use href="#m9" x="399.8" y="516.3"/><use href="#m9" x="400.0" y="516.0"/><use href="#m9" x="400.2" y="515.8"/><use href="#m9" x="400.4" y="515.5"/><use href="#m9" x="400.7" y="515.2"/><use href="#m9" x="400.9" y="514.9"/><use href="#m9" x="401.1" y="514.7"/><use href="#m9" x="401.3" y="514.4"/><use href="#m9" x="446.0" y="476.0"/><use href="#m9" x="490.7" y="450.8"/><use href="#m9" x="535.3" y="432.8"/><use href="#m9" x="580.0" y="417.7"/><use href="#m9" x="624.7" y="405.5"/><use href="#m9" x="669.3" y="394.8"/><use href="#m9" x="714.0" y="385.6"/><use href="#m9" x="758.7" y="377.7"/><use href="#m9" x="803.3" y="369.5"/><use href="#m9" x="848.0" y="362.6"/><use href="#m9" x="892.7" y="356.8"/><use href="#m9" x="937.3" y="350.6"/><use href="#m9" x="982.0" y="344.8"/><use href="#m9" x="1026.7" y="339.4"/><use href="#m9" x="1071.3" y="334.9"/><use href="#m9" x="1116.0" y="329.9"/><use href="#m9" x="1160.7" y="325.8"/><use href="#m9" x="1205.3" y="320.5"/><use href="#m9" x="1250.0" y="316.6"/><use href="#m9" x="1294.7" y="312.7"/><use href="#m9" x="1339.3" y="309.7"/><use href="#m9" x="1384.0" y="305.8"/><use href="#m9" x="1428.7" y="302.4"/>
</g>
<g>
<use href="#m10" x="357.1" y="721.5"/><use href="#m10" x="357.6" y="703.4"/><use href="#m10" x="358.0" y="692.1"/><use href="#m10" x="358.5" y="683.7"/><use href="#m10" x="358.9" y="677.1"/><use href="#m10" x="359.3" y="671.5"/><use href="#m10" x="359.8" y="666.7"/><use href="#m10" x="360.2" y="662.4"/><use href="#m10" x="360.7" y="658.6"/><use href="#m10" x="361.1" y="655.2"/><use href="#m10" x="361.6" y="652.0"/><use href="#m10" x="362.0" y="649.1"/><use href="#m10" x="362.2" y="647.7"/><use href="#m10" x="362.5" y="646.4"/><use href="#m10" x="362.7" y="645.1"/><use href="#m10" x="362.9" y="643.9"/><use href="#m10" x="363.1" y="642.7"/><use href="#m10" x="363.4" y="641.5"/><use href="#m10" x="363.6" y="640.4"/><use href="#m10" x="363.8" y="639.3"/><use href="#m10" x="364.0" y="638.2"/><use href="#m10" x="364.3" y="637.1"/><use href="#m10" x="364.5" y="636.1"/><use href="#m10" x="364.7" y="635.1"/><use href="#m10" x="364.9" y="634.2"/><use href="#m10" x="365.2" y="633.2"/><use href="#m10" x="365.4" y="632.3"/><use href="#m10" x="365.6" y="631.4"/><use href="#m10" x="365.8" y="630.5"/><use href="#m10" x="366.0" y="629.6"/><use href="#m10" x="366.3" y="628.8"/><use href="#m10" x="366.5" y="628.0"/><use href="#m10" x="366.7" y="627.1"/><use href="#m10" x="366.9" y="626.3"/><use href="#m10" x="367.2" y="625.6"/><use href="#m10" x="367.4" y="624.8"/><use href="#m10" x="367.6" y="624.0"/><use href="#m10" x="367.8" y="623.3"/><use href="#m10" x="368.1" y="622.6"/><use href="#m10" x="368.3" y="621.9"/><use href="#m10" x="368.5" y="621.2"/><use href="#m10" x="368.7" y="620.5"/><use href="#m10" x="368.9" y="619.8"/><use href="#m10" x="369.2" y="619.1"/><use href="#m10" x="369.4" y="618.5"/><use href="#m10" x="369.6" y="617.8"/><use href="#m10" x="369.8" y="617.2"/><use href="#m10" x="370.1" y="616.5"/><use href="#m10" x="370.3" y="615.9"/><use href="#m10" x="370.5" y="615.3"/><use href="#m10" x="370.7" y="614.7"/><use href="#m10" x="371.0" y="614.1"/><use href="#m10" x="371.2" y="613.5"/><use href="#m10" x="371.4" y="612.9"/><use href="#m10" x="371.6" y="612.4"/><use href="#m10" x="371.9" y="611.8"/><use href="#m10" x="372.1" y="611.3"/><use href="#m10" x="372.3" y="610.7"/><use href="#m10" x="372.5" y="610.2"/><use href="#m10" x="372.7" y="609.6"/><use href="#m10" x="373.0" y="609.1"/><use href="#m10" x="373.2" y="608.6"/><use href="#m10" x="373.4" y="608.1"/><use href="#m10" x="373.6" y="607.5"/><use href="#m10" x="373.9" y="607.0"/><use href="#m10" x="374.1" y="606.5"/><use href="#m10" x="374.3" y="606.0"/><use href="#m10" x="374.5" y="605.6"/><use href="#m10" x="374.8" y="605.1"/><use href="#m10" x="375.0" y="604.6"/><use href="#m10" x="375.2" y="604.1"/><use href="#m10" x="375.4" y="603.7"/><use href="#m10" x="375.6" y="603.2"/><use href="#m10" x="375.9" y="602.7"/><use href="#m10" x="376.1" y="602.3"/><use href="#m10" x="376.3" y="601.8"/><use href="#m10" x="376.5" y="601.4"/><use href="#m10" x="376.8" y="601.0"/><use href="#m10" x="377.0" y="600.5"/><use href="#m10" x="377.2" y="600.1"/><use href="#m10" x="377.4" y="599.7"/><use href="#m10" x="377.7" y="599.2"/><use href="#m10" x="377.9" y="598.8"/><use href="#m10" x="378.1" y="598.4"/><use href="#m10" x="378.3" y="598.0"/><use href="#m10" x="378.6" y="597.6"/><use href="#m10" x="378.8" y="597.2"/><use href="#m10" x="379.0" y="596.8"/><use href="#m10" x="379.2" y="596.4"/><use href="#m10" x="379.4" y="596.0"/><use href="#m10" x="379.7" y="595.6"/><use href="#m10" x="379.9" y="595.2"/><use href="#m10" x="380.1" y="594.8"/><use href="#m10" x="380.3" y="594.5"/><use href="#m10" x="380.6" y="594.1"/><use href="#m10" x="380.8" y="593.7"/><use href="#m10" x="381.0" y="593.3"/><use href="#m10" x="381.2" y="593.0"/><use href="#m10" x="381.5" y="592.6"/><use href="#m10" x="381.7" y="592.2"/><use href="#m10" x="381.9" y="591.9"/><use href="#m10" x="382.1" y="591.5"/><use href="#m10" x="382.4" y="591.2"/><use href="#m10" x="382.6" y="590.8"/><use href="#m10" x="382.8" y="590.5"/><use href="#m10" x="383.0" y="590.1"/><use href="#m10" x="383.2" y="589.8"/><use href="#m10" x="383.5" y="589.4"/><use href="#m10" x="383.7" y="589.1"/><use href="#m10" x="383.9" y="588.8"/><use href="#m10" x="384.1" y="588.4"/><use href="#m10" x="384.4" y="588.1"/><use href="#m10" x="384.6" y="587.8"/><use href="#m10" x="384.8" y="587.4"/><use href="#m10" x="385.0" y="587.1"/><use href="#m10" x="385.3" y="586.8"/><use href="#m10" x="385.5" y="586.5"/><use href="#m10" x="385.7" y="586.2"/><use href="#m10" x="385.9" y="585.9"/><use href="#m10" x="386.1" y="585.5"/><use href="#m10" x="386.4" y="585.2"/><use href="#m10" x="386.6" y="584.9"/><use href="#m10" x="386.8" y="584.6"/><use href="#m10" x="387.0" y="584.3"/><use href="#m10" x="387.3" y="584.0"/><use href="#m10" x="387.5" y="583.7"/><use href="#m10" x="387.7" y="583.4"/><use href="#m10" x="387.9" y="583.1"/><use href="#m10" x="388.2" y="582.8"/><use href="#m10" x="388.4" y="582.5"/><use href="#m10" x="388.6" y="582.2"/><use href="#m10" x="388.8" y="581.9"/><use href="#m10" x="389.0" y="581.6"/><use href="#m10" x="389.3" y="581.4"/><use href="#m10" x="389.5" y="581.1"/><use href="#m10" x="389.7" y="580.8"/><use href="#m10" x="389.9" y="580.5"/><use href="#m10" x="390.2" y="580.2"/><use href="#m10" x="390.4" y="580.0"/><use href="#m10" x="390.6" y="579.7"/><use href="#m10" x="390.8" y="579.4"/><use href="#m10" x="391.1" y="579.1"/><use href="#m10" x="391.3" y="578.9"/><use href="#m10" x="391.5" y="578.6"/><use href="#m10" x="391.7" y="578.3"/><use href="#m10" x="392.0" y="578.1"/><use href="#m10" x="392.2" y="577.8"/><use href="#m10" x="392.4" y="577.5"/><use href="#m10" x="392.6" y="577.3"/><use href="#m10" x="392.8" y="577.0"/><use href="#m10" x="393.1" y="576.7"/><use href="#m10" x="393.3" y="576.5"/><use href="#m10" x="393.5" y="576.2"/><use href="#m10" x="393.7" y="576.0"/><use href="#m10" x="394.0" y="575.7"/><use href="#m10" x="394.2" y="575.5"/><use href="#m10" x="394.4" y="575.2"/><use href="#m10" x="394.6" y="575.0"/><use href="#m10" x="394.9" y="574.7"/><use href="#m10" x="395.1" y="574.5"/><use href="#m10" x="395.3" y="574.2"/><use href="#m10" x="395.5" y="574.0"/><use href="#m10" x="395.8" y="573.7"/><use href="#m10" x="396.0" y="573.5"/><use href="#m10" x="396.2" y="573.2"/><use href="#m10" x="396.4" y="573.0"/><use href="#m10" x="396.6" y="572.8"/><use href="#m10" x="396.9" y="572.5"/><use href="#m10" x="397.1" y="572.3"/><use href="#m10" x="397.3" y="572.1"/><use href="#m10" x="397.5" y="571.8"/><use href="#m10" x="397.8" y="571.6"/><use href="#m10" x="398.0" y="571.4"/><use href="#m10" x="398.2" y="571.1"/><use href="#m10" x="398.4" y="570.9"/><use href="#m10" x="398.7" y="570.7"/><use href="#m10" x="398.9" y="570.4"/><use href="#m10" x="399.1" y="570.2"/><use href="#m10" x="399.3" y="570.0"/><use href="#m10" x="399.5" y="569.8"/><use href="#m10" x="399.8" y="569.5"/><use href="#m10" x="400.0" y="569.3"/><use href="#m10" x="400.2" y="569.1"/><use href="#m10" x="400.4" y="568.9"/><use href="#m10" x="400.7" y="568.7"/><use href="#m10" x="400.9" y="568.4"/><use href="#m10" x="401.1" y="568.2"/><use href="#m10" x="401.3" y="568.0"/><use href="#m10" x="446.0" y="536.5"/><use href="#m10" x="490.7" y="517.3"/><use href="#m10" x="535.3" y="502.2"/><use href="#m10" x="580.0" y="490.9"/><use href="#m10" x="624.7" y="481.6"/><use href="#m10" x="669.3" y="472.7"/><use href="#m10" x="714.0" y="465.2"/><use href="#m10" x="758.7" y="459.0"/><use href="#m10" x="803.3" y="453.2"/><use href="#m10" x="848.0" y="447.3"/><use href="#m10" x="892.7" y="442.2"/><use href="#m10" x="937.3" y="437.7"/><use href="#m10" x="982.0" y="433.3"/><use href="#m10" x="1026.7" y="429.1"/><use href="#m10" x="1071.3" y="425.0"/><use href="#m10" x="1116.0" y="421.8"/><use href="#m10" x="1160.7" y="417.7"/><use href="#m10" x="1205.3" y="414.7"/><use href="#m10" x="1250.0" y="411.7"/><use href="#m10" x="1294.7" y="408.8"/><use href="#m10" x="1339.3" y="405.6"/><use href="#m10" x="1384.0" y="403.0"/><use href="#m10" x="1428.7" y="399.8"/>
</g>
</g>
<g fill="#000" shape-rendering="crispEdges">
<rect x="243" y="36" width="4" height="830"/>
<rect x="225" y="36" width="1295" height="3"/>
<rect x="1516" y="35" width="4" height="823"/>
<rect x="243" y="854" width="1277" height="4"/>
<rect x="225" y="803" width="19" height="4"/>
<rect x="225" y="675" width="19" height="4"/>
<rect x="225" y="547" width="19" height="4"/>
<rect x="225" y="419" width="19" height="4"/>
<rect x="225" y="291" width="19" height="4"/>
<rect x="225" y="163" width="19" height="4"/>
<rect x="234" y="739" width="10" height="4"/>
<rect x="234" y="611" width="10" height="4"/>
<rect x="234" y="483" width="10" height="4"/>
<rect x="234" y="355" width="10" height="4"/>
<rect x="234" y="227" width="10" height="4"/>
<rect x="234" y="99" width="10" height="4"/>
<rect x="355" y="857" width="4" height="16"/>
<rect x="578" y="857" width="4" height="16"/>
<rect x="801" y="857" width="4" height="16"/>
<rect x="1025" y="857" width="4" height="16"/>
<rect x="1248" y="857" width="4" height="16"/>
<rect x="1471" y="857" width="4" height="16"/>
<rect x="466" y="857" width="4" height="8"/>
<rect x="690" y="857" width="4" height="8"/>
<rect x="913" y="857" width="4" height="8"/>
<rect x="1136" y="857" width="4" height="8"/>
<rect x="1360" y="857" width="4" height="8"/>
</g>
<g shape-rendering="crispEdges">
<use href="#m1" x="1557" y="98.5" fill="#000000"/>
<use href="#m2" x="1557" y="173.3" fill="#ff0000"/>
<use href="#m3" x="1557" y="248.1" fill="#9000ff"/>
<use href="#m4" x="1557" y="322.9" fill="#0000ff"/>
<use href="#m5" x="1557" y="397.7" fill="#00ffff"/>
<use href="#m6" x="1557" y="472.5" fill="#ff00ff"/>
<use href="#m7" x="1557" y="547.3" fill="#ff8000"/>
<use href="#m8" x="1557" y="622.1"/>
<use href="#m9" x="1557" y="696.9" fill="#000080"/>
<use href="#m10" x="1557" y="771.7"/>
</g>
<g font-family="'Liberation Serif', serif" fill="#000">
<text x="116.0" y="63.5" font-size="70" textLength="83.2" lengthAdjust="spacingAndGlyphs">3.5</text>
<text x="115.8" y="196.9" font-size="70" textLength="83.7" lengthAdjust="spacingAndGlyphs">3.0</text>
<text x="115.8" y="321.1" font-size="70" textLength="83.7" lengthAdjust="spacingAndGlyphs">2.5</text>
<text x="111.8" y="450.0" font-size="70" textLength="84.3" lengthAdjust="spacingAndGlyphs">2.0</text>
<text x="95.0" y="577.2" font-size="70" textLength="83.6" lengthAdjust="spacingAndGlyphs">1.5</text>
<text x="98.0" y="704.0" font-size="70" textLength="84.5" lengthAdjust="spacingAndGlyphs">1.0</text>
<text x="99.0" y="831.0" font-size="70" textLength="83.5" lengthAdjust="spacingAndGlyphs">0.5</text>
<text x="341.0" y="941.0" font-size="70" textLength="36.2" lengthAdjust="spacingAndGlyphs">0</text>
<text x="528.8" y="945.2" font-size="70" textLength="102.0" lengthAdjust="spacingAndGlyphs">500</text>
<text x="738.8" y="945.0" font-size="70" textLength="133.6" lengthAdjust="spacingAndGlyphs">1000</text>
<text x="962.8" y="945.0" font-size="70" textLength="134.7" lengthAdjust="spacingAndGlyphs">1500</text>
<text x="1189.6" y="945.0" font-size="70" textLength="134.2" lengthAdjust="spacingAndGlyphs">2000</text>
<text x="1410.4" y="948.8" font-size="70" textLength="133.8" lengthAdjust="spacingAndGlyphs">2500</text>
<text x="798.2" y="1041.0" font-size="69" textLength="233.2" lengthAdjust="spacingAndGlyphs">Time (s)</text>
<text x="319.8" y="147.7" font-size="70" textLength="158.4" lengthAdjust="spacingAndGlyphs">50 °C</text>
<text x="0" y="0" font-size="69" textLength="290.0" lengthAdjust="spacingAndGlyphs" transform="translate(68.2,592.0) rotate(-90)">Strain (%)</text>
<text x="1624.2" y="124.0" font-size="70" textLength="80.2" lengthAdjust="spacingAndGlyphs">C1</text>
<text x="1624.2" y="201.6" font-size="70" textLength="83.6" lengthAdjust="spacingAndGlyphs">C2</text>
<text x="1626.2" y="271.8" font-size="70" textLength="81.7" lengthAdjust="spacingAndGlyphs">C3</text>
<text x="1626.2" y="347.6" font-size="70" textLength="80.5" lengthAdjust="spacingAndGlyphs">C4</text>
<text x="1626.2" y="425.8" font-size="70" textLength="81.7" lengthAdjust="spacingAndGlyphs">C5</text>
<text x="1626.2" y="498.8" font-size="70" textLength="80.7" lengthAdjust="spacingAndGlyphs">C6</text>
<text x="1626.2" y="572.0" font-size="70" textLength="81.5" lengthAdjust="spacingAndGlyphs">C7</text>
<text x="1631.0" y="651.0" font-size="70" textLength="81.7" lengthAdjust="spacingAndGlyphs">C8</text>
<text x="1631.0" y="725.0" font-size="70" textLength="81.7" lengthAdjust="spacingAndGlyphs">C9</text>
<text x="1631.0" y="799.0" font-size="70" textLength="111.9" lengthAdjust="spacingAndGlyphs">C10</text>
</g>
</svg>
</body></html>
